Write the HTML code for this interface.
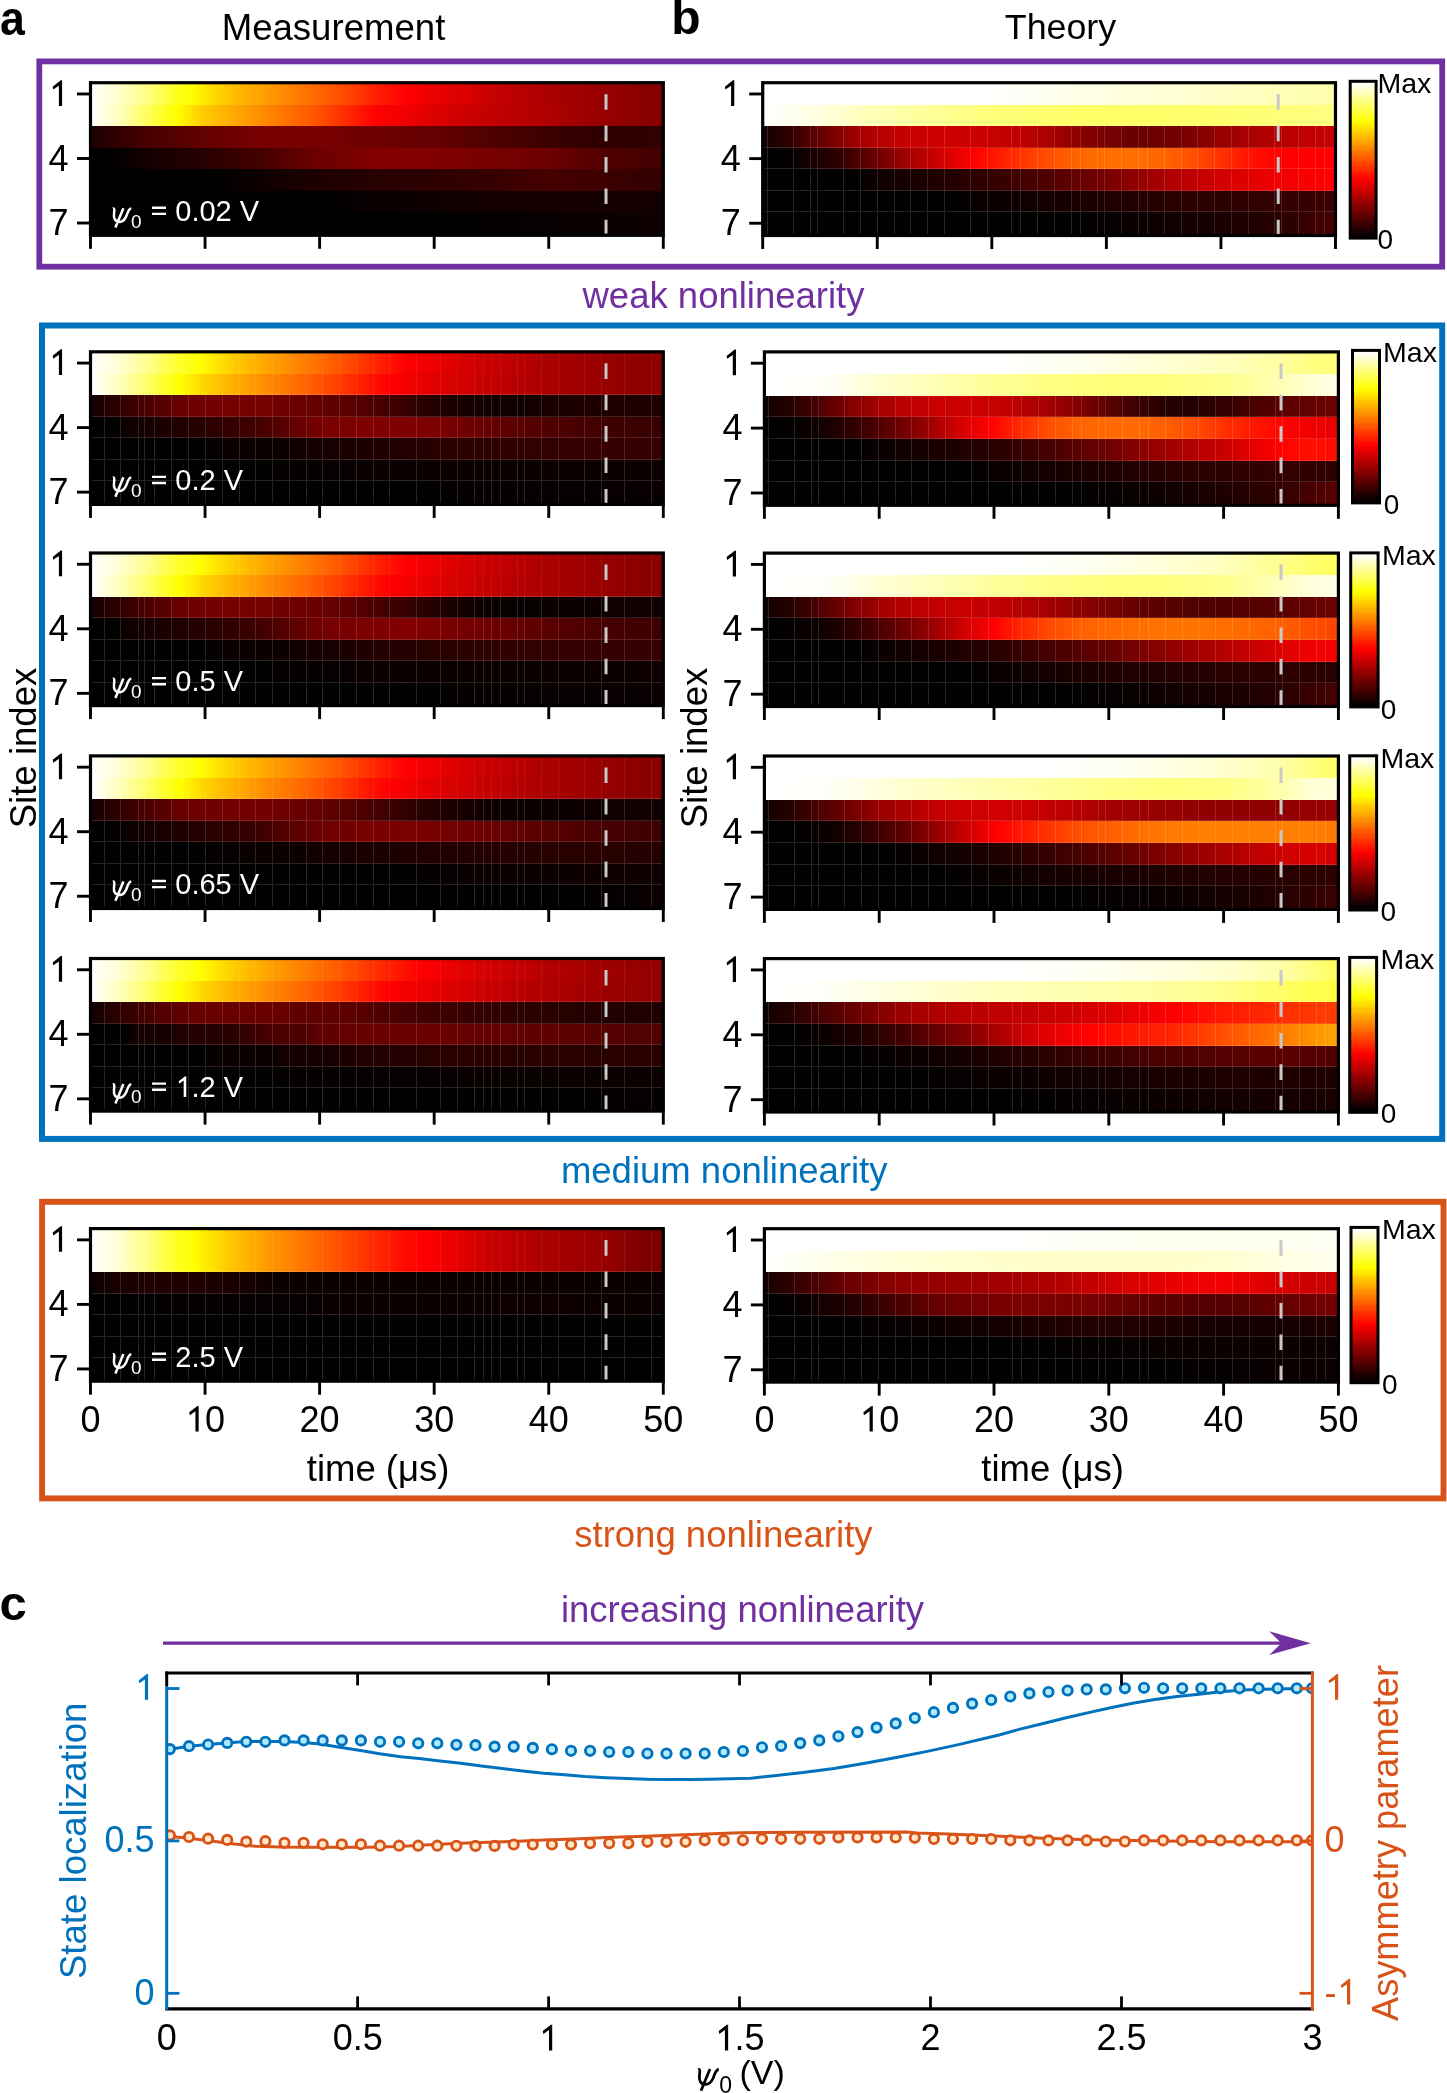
<!DOCTYPE html>
<html><head><meta charset="utf-8"><title>Figure</title>
<style>html,body{margin:0;padding:0;background:#fff;width:1447px;height:2093px;overflow:hidden;font-family:"Liberation Sans",sans-serif;}svg{display:block;will-change:transform;}</style>
</head><body>
<svg width="1447" height="2093" viewBox="0 0 1447 2093" font-family='&quot;Liberation Sans&quot;, sans-serif'><defs><linearGradient id="cbar" x1="0" y1="0" x2="0" y2="1"><stop offset="0.0000" stop-color="#ffffff"/><stop offset="0.0156" stop-color="#ffffff"/><stop offset="0.0156" stop-color="#ffffef"/><stop offset="0.0312" stop-color="#ffffef"/><stop offset="0.0312" stop-color="#ffffdf"/><stop offset="0.0469" stop-color="#ffffdf"/><stop offset="0.0469" stop-color="#ffffce"/><stop offset="0.0625" stop-color="#ffffce"/><stop offset="0.0625" stop-color="#ffffbe"/><stop offset="0.0781" stop-color="#ffffbe"/><stop offset="0.0781" stop-color="#ffffae"/><stop offset="0.0938" stop-color="#ffffae"/><stop offset="0.0938" stop-color="#ffff9e"/><stop offset="0.1094" stop-color="#ffff9e"/><stop offset="0.1094" stop-color="#ffff8e"/><stop offset="0.1250" stop-color="#ffff8e"/><stop offset="0.1250" stop-color="#ffff7d"/><stop offset="0.1406" stop-color="#ffff7d"/><stop offset="0.1406" stop-color="#ffff6d"/><stop offset="0.1562" stop-color="#ffff6d"/><stop offset="0.1562" stop-color="#ffff5d"/><stop offset="0.1719" stop-color="#ffff5d"/><stop offset="0.1719" stop-color="#ffff4d"/><stop offset="0.1875" stop-color="#ffff4d"/><stop offset="0.1875" stop-color="#ffff3d"/><stop offset="0.2031" stop-color="#ffff3d"/><stop offset="0.2031" stop-color="#ffff2d"/><stop offset="0.2188" stop-color="#ffff2d"/><stop offset="0.2188" stop-color="#ffff1c"/><stop offset="0.2344" stop-color="#ffff1c"/><stop offset="0.2344" stop-color="#ffff0c"/><stop offset="0.2500" stop-color="#ffff0c"/><stop offset="0.2500" stop-color="#fffc00"/><stop offset="0.2656" stop-color="#fffc00"/><stop offset="0.2656" stop-color="#fff200"/><stop offset="0.2812" stop-color="#fff200"/><stop offset="0.2812" stop-color="#ffe700"/><stop offset="0.2969" stop-color="#ffe700"/><stop offset="0.2969" stop-color="#ffdc00"/><stop offset="0.3125" stop-color="#ffdc00"/><stop offset="0.3125" stop-color="#ffd100"/><stop offset="0.3281" stop-color="#ffd100"/><stop offset="0.3281" stop-color="#ffc600"/><stop offset="0.3438" stop-color="#ffc600"/><stop offset="0.3438" stop-color="#ffbc00"/><stop offset="0.3594" stop-color="#ffbc00"/><stop offset="0.3594" stop-color="#ffb100"/><stop offset="0.3750" stop-color="#ffb100"/><stop offset="0.3750" stop-color="#ffa600"/><stop offset="0.3906" stop-color="#ffa600"/><stop offset="0.3906" stop-color="#ff9b00"/><stop offset="0.4062" stop-color="#ff9b00"/><stop offset="0.4062" stop-color="#ff9000"/><stop offset="0.4219" stop-color="#ff9000"/><stop offset="0.4219" stop-color="#ff8600"/><stop offset="0.4375" stop-color="#ff8600"/><stop offset="0.4375" stop-color="#ff7b00"/><stop offset="0.4531" stop-color="#ff7b00"/><stop offset="0.4531" stop-color="#ff7000"/><stop offset="0.4688" stop-color="#ff7000"/><stop offset="0.4688" stop-color="#ff6500"/><stop offset="0.4844" stop-color="#ff6500"/><stop offset="0.4844" stop-color="#ff5a00"/><stop offset="0.5000" stop-color="#ff5a00"/><stop offset="0.5000" stop-color="#ff5000"/><stop offset="0.5156" stop-color="#ff5000"/><stop offset="0.5156" stop-color="#ff4500"/><stop offset="0.5312" stop-color="#ff4500"/><stop offset="0.5312" stop-color="#ff3a00"/><stop offset="0.5469" stop-color="#ff3a00"/><stop offset="0.5469" stop-color="#ff2f00"/><stop offset="0.5625" stop-color="#ff2f00"/><stop offset="0.5625" stop-color="#ff2400"/><stop offset="0.5781" stop-color="#ff2400"/><stop offset="0.5781" stop-color="#ff1a00"/><stop offset="0.5938" stop-color="#ff1a00"/><stop offset="0.5938" stop-color="#ff0f00"/><stop offset="0.6094" stop-color="#ff0f00"/><stop offset="0.6094" stop-color="#ff0400"/><stop offset="0.6250" stop-color="#ff0400"/><stop offset="0.6250" stop-color="#f80000"/><stop offset="0.6406" stop-color="#f80000"/><stop offset="0.6406" stop-color="#ed0000"/><stop offset="0.6562" stop-color="#ed0000"/><stop offset="0.6562" stop-color="#e30000"/><stop offset="0.6719" stop-color="#e30000"/><stop offset="0.6719" stop-color="#d80000"/><stop offset="0.6875" stop-color="#d80000"/><stop offset="0.6875" stop-color="#cd0000"/><stop offset="0.7031" stop-color="#cd0000"/><stop offset="0.7031" stop-color="#c20000"/><stop offset="0.7188" stop-color="#c20000"/><stop offset="0.7188" stop-color="#b70000"/><stop offset="0.7344" stop-color="#b70000"/><stop offset="0.7344" stop-color="#ad0000"/><stop offset="0.7500" stop-color="#ad0000"/><stop offset="0.7500" stop-color="#a20000"/><stop offset="0.7656" stop-color="#a20000"/><stop offset="0.7656" stop-color="#970000"/><stop offset="0.7812" stop-color="#970000"/><stop offset="0.7812" stop-color="#8c0000"/><stop offset="0.7969" stop-color="#8c0000"/><stop offset="0.7969" stop-color="#820000"/><stop offset="0.8125" stop-color="#820000"/><stop offset="0.8125" stop-color="#770000"/><stop offset="0.8281" stop-color="#770000"/><stop offset="0.8281" stop-color="#6c0000"/><stop offset="0.8438" stop-color="#6c0000"/><stop offset="0.8438" stop-color="#610000"/><stop offset="0.8594" stop-color="#610000"/><stop offset="0.8594" stop-color="#560000"/><stop offset="0.8750" stop-color="#560000"/><stop offset="0.8750" stop-color="#4c0000"/><stop offset="0.8906" stop-color="#4c0000"/><stop offset="0.8906" stop-color="#410000"/><stop offset="0.9062" stop-color="#410000"/><stop offset="0.9062" stop-color="#360000"/><stop offset="0.9219" stop-color="#360000"/><stop offset="0.9219" stop-color="#2b0000"/><stop offset="0.9375" stop-color="#2b0000"/><stop offset="0.9375" stop-color="#200000"/><stop offset="0.9531" stop-color="#200000"/><stop offset="0.9531" stop-color="#160000"/><stop offset="0.9688" stop-color="#160000"/><stop offset="0.9688" stop-color="#0b0000"/><stop offset="0.9844" stop-color="#0b0000"/><stop offset="0.9844" stop-color="#000000"/><stop offset="1.0000" stop-color="#000000"/></linearGradient><linearGradient id="g1"><stop offset="0.0000" stop-color="#ffffff"/><stop offset="0.0500" stop-color="#ffffc8"/><stop offset="0.1000" stop-color="#ffff82"/><stop offset="0.1500" stop-color="#ffff1e"/><stop offset="0.1773" stop-color="#ffff00"/><stop offset="0.2000" stop-color="#ffe600"/><stop offset="0.2500" stop-color="#ffbe00"/><stop offset="0.3000" stop-color="#ffa000"/><stop offset="0.3500" stop-color="#ff8200"/><stop offset="0.4000" stop-color="#ff6400"/><stop offset="0.4500" stop-color="#ff4600"/><stop offset="0.5000" stop-color="#ff1e00"/><stop offset="0.5500" stop-color="#ff0000"/><stop offset="0.6000" stop-color="#eb0000"/><stop offset="0.6500" stop-color="#dc0000"/><stop offset="0.7000" stop-color="#c80000"/><stop offset="0.7500" stop-color="#b90000"/><stop offset="0.8000" stop-color="#aa0000"/><stop offset="0.8500" stop-color="#a00000"/><stop offset="0.9000" stop-color="#960000"/><stop offset="0.9500" stop-color="#8c0000"/><stop offset="1.0000" stop-color="#820000"/></linearGradient><linearGradient id="g2"><stop offset="0.0000" stop-color="#ffffff"/><stop offset="0.0500" stop-color="#ffffbe"/><stop offset="0.1000" stop-color="#ffff5a"/><stop offset="0.1500" stop-color="#ffff00"/><stop offset="0.2000" stop-color="#ffc800"/><stop offset="0.2500" stop-color="#ffaa00"/><stop offset="0.3000" stop-color="#ff8c00"/><stop offset="0.3500" stop-color="#ff6e00"/><stop offset="0.4000" stop-color="#ff5000"/><stop offset="0.4500" stop-color="#ff2800"/><stop offset="0.5000" stop-color="#ff0000"/><stop offset="0.5500" stop-color="#f00000"/><stop offset="0.6000" stop-color="#dc0000"/><stop offset="0.6500" stop-color="#cd0000"/><stop offset="0.7000" stop-color="#c30000"/><stop offset="0.7500" stop-color="#b90000"/><stop offset="0.8000" stop-color="#af0000"/><stop offset="0.8500" stop-color="#a00000"/><stop offset="0.9000" stop-color="#960000"/><stop offset="0.9500" stop-color="#8c0000"/><stop offset="1.0000" stop-color="#820000"/></linearGradient><linearGradient id="g3"><stop offset="0.0000" stop-color="#1e0000"/><stop offset="0.0500" stop-color="#320000"/><stop offset="0.1000" stop-color="#460000"/><stop offset="0.2000" stop-color="#640000"/><stop offset="0.3000" stop-color="#780000"/><stop offset="0.4000" stop-color="#780000"/><stop offset="0.5000" stop-color="#6e0000"/><stop offset="0.6000" stop-color="#640000"/><stop offset="0.7000" stop-color="#500000"/><stop offset="0.8000" stop-color="#3c0000"/><stop offset="0.9000" stop-color="#2d0000"/><stop offset="1.0000" stop-color="#320000"/></linearGradient><linearGradient id="g4"><stop offset="0.0000" stop-color="#000000"/><stop offset="0.0500" stop-color="#050000"/><stop offset="0.1000" stop-color="#140000"/><stop offset="0.2000" stop-color="#280000"/><stop offset="0.3000" stop-color="#460000"/><stop offset="0.4000" stop-color="#6e0000"/><stop offset="0.5000" stop-color="#820000"/><stop offset="0.6000" stop-color="#820000"/><stop offset="0.7000" stop-color="#780000"/><stop offset="0.8000" stop-color="#6e0000"/><stop offset="0.9000" stop-color="#500000"/><stop offset="1.0000" stop-color="#410000"/></linearGradient><linearGradient id="g5"><stop offset="0.0000" stop-color="#000000"/><stop offset="0.2000" stop-color="#000000"/><stop offset="0.3000" stop-color="#0f0000"/><stop offset="0.4000" stop-color="#1e0000"/><stop offset="0.5000" stop-color="#280000"/><stop offset="0.6000" stop-color="#2d0000"/><stop offset="0.7000" stop-color="#370000"/><stop offset="0.8000" stop-color="#460000"/><stop offset="0.9000" stop-color="#3c0000"/><stop offset="1.0000" stop-color="#320000"/></linearGradient><linearGradient id="g6"><stop offset="0.0000" stop-color="#000000"/><stop offset="0.4000" stop-color="#000000"/><stop offset="0.5000" stop-color="#0a0000"/><stop offset="0.7000" stop-color="#140000"/><stop offset="0.9000" stop-color="#140000"/><stop offset="1.0000" stop-color="#140000"/></linearGradient><linearGradient id="g7"><stop offset="0.0000" stop-color="#000000"/><stop offset="0.6000" stop-color="#000000"/><stop offset="0.8000" stop-color="#080000"/><stop offset="1.0000" stop-color="#0f0000"/></linearGradient><linearGradient id="g8"><stop offset="0.0000" stop-color="#ffffff"/><stop offset="0.4000" stop-color="#ffffff"/><stop offset="0.5000" stop-color="#fffff0"/><stop offset="0.6000" stop-color="#ffffe1"/><stop offset="0.7000" stop-color="#ffffd7"/><stop offset="0.8000" stop-color="#ffffc8"/><stop offset="0.9000" stop-color="#ffffb9"/><stop offset="1.0000" stop-color="#ffffaa"/></linearGradient><linearGradient id="g9"><stop offset="0.0000" stop-color="#ffffff"/><stop offset="0.0500" stop-color="#fffff0"/><stop offset="0.1000" stop-color="#ffffdc"/><stop offset="0.1500" stop-color="#ffffc8"/><stop offset="0.2000" stop-color="#ffffb4"/><stop offset="0.3000" stop-color="#ffff96"/><stop offset="0.4000" stop-color="#ffff78"/><stop offset="0.5000" stop-color="#ffff6e"/><stop offset="0.6000" stop-color="#ffff64"/><stop offset="0.7000" stop-color="#ffff69"/><stop offset="0.8000" stop-color="#ffff6e"/><stop offset="0.9000" stop-color="#ffff78"/><stop offset="1.0000" stop-color="#ffff82"/></linearGradient><linearGradient id="g10"><stop offset="0.0000" stop-color="#140000"/><stop offset="0.0500" stop-color="#320000"/><stop offset="0.1000" stop-color="#640000"/><stop offset="0.1500" stop-color="#960000"/><stop offset="0.2000" stop-color="#b40000"/><stop offset="0.2500" stop-color="#c80000"/><stop offset="0.3000" stop-color="#cd0000"/><stop offset="0.3500" stop-color="#cd0000"/><stop offset="0.4000" stop-color="#c80000"/><stop offset="0.4500" stop-color="#be0000"/><stop offset="0.5000" stop-color="#aa0000"/><stop offset="0.5500" stop-color="#8c0000"/><stop offset="0.6000" stop-color="#780000"/><stop offset="0.6500" stop-color="#690000"/><stop offset="0.7000" stop-color="#6e0000"/><stop offset="0.7500" stop-color="#7d0000"/><stop offset="0.8000" stop-color="#960000"/><stop offset="0.8500" stop-color="#aa0000"/><stop offset="0.9000" stop-color="#b40000"/><stop offset="0.9500" stop-color="#be0000"/><stop offset="1.0000" stop-color="#c80000"/></linearGradient><linearGradient id="g11"><stop offset="0.0000" stop-color="#000000"/><stop offset="0.0500" stop-color="#050000"/><stop offset="0.1000" stop-color="#1e0000"/><stop offset="0.1500" stop-color="#3c0000"/><stop offset="0.2000" stop-color="#6e0000"/><stop offset="0.2500" stop-color="#a00000"/><stop offset="0.3000" stop-color="#c80000"/><stop offset="0.3500" stop-color="#f00000"/><stop offset="0.3714" stop-color="#ff0000"/><stop offset="0.4000" stop-color="#ff1400"/><stop offset="0.4500" stop-color="#ff3200"/><stop offset="0.5000" stop-color="#ff5000"/><stop offset="0.5500" stop-color="#ff6400"/><stop offset="0.6000" stop-color="#ff6e00"/><stop offset="0.6500" stop-color="#ff6e00"/><stop offset="0.7000" stop-color="#ff6400"/><stop offset="0.7500" stop-color="#ff5000"/><stop offset="0.8000" stop-color="#ff3200"/><stop offset="0.8500" stop-color="#ff1400"/><stop offset="0.9000" stop-color="#ff0000"/><stop offset="1.0000" stop-color="#ff0000"/></linearGradient><linearGradient id="g12"><stop offset="0.0000" stop-color="#000000"/><stop offset="0.1600" stop-color="#000000"/><stop offset="0.2000" stop-color="#0f0000"/><stop offset="0.3000" stop-color="#1e0000"/><stop offset="0.4000" stop-color="#320000"/><stop offset="0.5000" stop-color="#500000"/><stop offset="0.6000" stop-color="#780000"/><stop offset="0.7000" stop-color="#aa0000"/><stop offset="0.8000" stop-color="#d20000"/><stop offset="0.9000" stop-color="#f00000"/><stop offset="1.0000" stop-color="#ff0000"/></linearGradient><linearGradient id="g13"><stop offset="0.0000" stop-color="#000000"/><stop offset="0.3000" stop-color="#000000"/><stop offset="0.4000" stop-color="#0a0000"/><stop offset="0.5000" stop-color="#140000"/><stop offset="0.6000" stop-color="#1e0000"/><stop offset="0.7000" stop-color="#280000"/><stop offset="0.8000" stop-color="#2d0000"/><stop offset="0.9000" stop-color="#320000"/><stop offset="1.0000" stop-color="#3c0000"/></linearGradient><linearGradient id="g14"><stop offset="0.0000" stop-color="#000000"/><stop offset="0.5000" stop-color="#000000"/><stop offset="0.6000" stop-color="#050000"/><stop offset="0.7000" stop-color="#0f0000"/><stop offset="0.8000" stop-color="#190000"/><stop offset="0.9000" stop-color="#280000"/><stop offset="1.0000" stop-color="#460000"/></linearGradient><linearGradient id="g15"><stop offset="0.0000" stop-color="#ffffff"/><stop offset="0.0500" stop-color="#ffffd2"/><stop offset="0.1000" stop-color="#ffff8c"/><stop offset="0.1500" stop-color="#ffff32"/><stop offset="0.1917" stop-color="#ffff00"/><stop offset="0.2000" stop-color="#fff500"/><stop offset="0.2500" stop-color="#ffcd00"/><stop offset="0.3000" stop-color="#ffaa00"/><stop offset="0.3500" stop-color="#ff8c00"/><stop offset="0.4000" stop-color="#ff6e00"/><stop offset="0.4500" stop-color="#ff4b00"/><stop offset="0.5000" stop-color="#ff2300"/><stop offset="0.5500" stop-color="#ff0000"/><stop offset="0.6000" stop-color="#eb0000"/><stop offset="0.6500" stop-color="#d70000"/><stop offset="0.7000" stop-color="#c80000"/><stop offset="0.7500" stop-color="#b90000"/><stop offset="0.8000" stop-color="#aa0000"/><stop offset="0.8500" stop-color="#a00000"/><stop offset="0.9000" stop-color="#960000"/><stop offset="0.9500" stop-color="#910000"/><stop offset="1.0000" stop-color="#8c0000"/></linearGradient><linearGradient id="g16"><stop offset="0.0000" stop-color="#ffffff"/><stop offset="0.0500" stop-color="#ffffbe"/><stop offset="0.1000" stop-color="#ffff64"/><stop offset="0.1500" stop-color="#ffff0a"/><stop offset="0.1591" stop-color="#ffff00"/><stop offset="0.2000" stop-color="#ffd200"/><stop offset="0.2500" stop-color="#ffaf00"/><stop offset="0.3000" stop-color="#ff9100"/><stop offset="0.3500" stop-color="#ff7300"/><stop offset="0.4000" stop-color="#ff5500"/><stop offset="0.4500" stop-color="#ff3200"/><stop offset="0.5000" stop-color="#ff0a00"/><stop offset="0.5250" stop-color="#ff0000"/><stop offset="0.5500" stop-color="#f50000"/><stop offset="0.6000" stop-color="#e10000"/><stop offset="0.6500" stop-color="#d20000"/><stop offset="0.7000" stop-color="#c30000"/><stop offset="0.7500" stop-color="#b40000"/><stop offset="0.8000" stop-color="#aa0000"/><stop offset="0.8500" stop-color="#a00000"/><stop offset="0.9000" stop-color="#960000"/><stop offset="0.9500" stop-color="#910000"/><stop offset="1.0000" stop-color="#8c0000"/></linearGradient><linearGradient id="g17"><stop offset="0.0000" stop-color="#140000"/><stop offset="0.0300" stop-color="#230000"/><stop offset="0.0600" stop-color="#320000"/><stop offset="0.0900" stop-color="#460000"/><stop offset="0.1200" stop-color="#550000"/><stop offset="0.1500" stop-color="#640000"/><stop offset="0.1800" stop-color="#700000"/><stop offset="0.2400" stop-color="#760000"/><stop offset="0.3000" stop-color="#760000"/><stop offset="0.3500" stop-color="#6e0000"/><stop offset="0.4000" stop-color="#640000"/><stop offset="0.4500" stop-color="#5a0000"/><stop offset="0.5000" stop-color="#4b0000"/><stop offset="0.5500" stop-color="#370000"/><stop offset="0.6000" stop-color="#230000"/><stop offset="0.6500" stop-color="#160000"/><stop offset="0.7000" stop-color="#110000"/><stop offset="0.7500" stop-color="#0f0000"/><stop offset="0.8000" stop-color="#190000"/><stop offset="0.8600" stop-color="#1e0000"/><stop offset="1.0000" stop-color="#1e0000"/></linearGradient><linearGradient id="g18"><stop offset="0.0000" stop-color="#000000"/><stop offset="0.0400" stop-color="#030000"/><stop offset="0.0700" stop-color="#0f0000"/><stop offset="0.1400" stop-color="#1e0000"/><stop offset="0.2400" stop-color="#320000"/><stop offset="0.3000" stop-color="#460000"/><stop offset="0.3400" stop-color="#5a0000"/><stop offset="0.3800" stop-color="#6e0000"/><stop offset="0.4200" stop-color="#7a0000"/><stop offset="0.5000" stop-color="#800000"/><stop offset="0.6000" stop-color="#7d0000"/><stop offset="0.6600" stop-color="#6e0000"/><stop offset="0.7200" stop-color="#5f0000"/><stop offset="0.8000" stop-color="#500000"/><stop offset="0.8600" stop-color="#460000"/><stop offset="0.9200" stop-color="#3c0000"/><stop offset="1.0000" stop-color="#370000"/></linearGradient><linearGradient id="g19"><stop offset="0.0000" stop-color="#000000"/><stop offset="0.2000" stop-color="#000000"/><stop offset="0.2400" stop-color="#0a0000"/><stop offset="0.3400" stop-color="#0c0000"/><stop offset="0.3800" stop-color="#140000"/><stop offset="0.4600" stop-color="#1c0000"/><stop offset="0.5000" stop-color="#1e0000"/><stop offset="0.6000" stop-color="#280000"/><stop offset="0.7000" stop-color="#2d0000"/><stop offset="0.8000" stop-color="#320000"/><stop offset="0.9000" stop-color="#370000"/><stop offset="1.0000" stop-color="#370000"/></linearGradient><linearGradient id="g20"><stop offset="0.0000" stop-color="#000000"/><stop offset="0.2000" stop-color="#000000"/><stop offset="0.4000" stop-color="#060000"/><stop offset="0.5000" stop-color="#0a0000"/><stop offset="1.0000" stop-color="#0c0000"/></linearGradient><linearGradient id="g21"><stop offset="0.0000" stop-color="#000000"/><stop offset="0.5000" stop-color="#000000"/><stop offset="0.7000" stop-color="#050000"/><stop offset="0.9000" stop-color="#080000"/><stop offset="1.0000" stop-color="#080000"/></linearGradient><linearGradient id="g22"><stop offset="0.0000" stop-color="#ffffff"/><stop offset="0.4000" stop-color="#ffffff"/><stop offset="0.5000" stop-color="#fffff5"/><stop offset="0.6000" stop-color="#ffffe6"/><stop offset="0.7000" stop-color="#ffffd2"/><stop offset="0.8000" stop-color="#ffffbe"/><stop offset="0.9000" stop-color="#ffffa0"/><stop offset="0.9500" stop-color="#ffff82"/><stop offset="1.0000" stop-color="#ffff73"/></linearGradient><linearGradient id="g23"><stop offset="0.0000" stop-color="#ffffff"/><stop offset="0.1000" stop-color="#fffffa"/><stop offset="0.1500" stop-color="#ffffe6"/><stop offset="0.2000" stop-color="#ffffd2"/><stop offset="0.3000" stop-color="#ffffb4"/><stop offset="0.4000" stop-color="#ffff96"/><stop offset="0.5000" stop-color="#ffff82"/><stop offset="0.6000" stop-color="#ffff78"/><stop offset="0.7000" stop-color="#ffff7d"/><stop offset="0.8000" stop-color="#ffff8c"/><stop offset="0.9000" stop-color="#ffffb4"/><stop offset="0.9500" stop-color="#ffffd2"/><stop offset="1.0000" stop-color="#ffffe6"/></linearGradient><linearGradient id="g24"><stop offset="0.0000" stop-color="#0f0000"/><stop offset="0.0500" stop-color="#280000"/><stop offset="0.1000" stop-color="#500000"/><stop offset="0.1500" stop-color="#820000"/><stop offset="0.2000" stop-color="#a50000"/><stop offset="0.2500" stop-color="#be0000"/><stop offset="0.3000" stop-color="#c80000"/><stop offset="0.3500" stop-color="#cd0000"/><stop offset="0.4000" stop-color="#c80000"/><stop offset="0.4500" stop-color="#b90000"/><stop offset="0.5000" stop-color="#a00000"/><stop offset="0.5500" stop-color="#820000"/><stop offset="0.6000" stop-color="#5a0000"/><stop offset="0.6500" stop-color="#3c0000"/><stop offset="0.7000" stop-color="#280000"/><stop offset="0.7500" stop-color="#230000"/><stop offset="0.8000" stop-color="#320000"/><stop offset="0.8500" stop-color="#460000"/><stop offset="0.9000" stop-color="#5a0000"/><stop offset="0.9500" stop-color="#640000"/><stop offset="1.0000" stop-color="#6e0000"/></linearGradient><linearGradient id="g25"><stop offset="0.0000" stop-color="#000000"/><stop offset="0.0500" stop-color="#030000"/><stop offset="0.1000" stop-color="#140000"/><stop offset="0.1500" stop-color="#2d0000"/><stop offset="0.2000" stop-color="#500000"/><stop offset="0.2500" stop-color="#780000"/><stop offset="0.3000" stop-color="#aa0000"/><stop offset="0.3500" stop-color="#dc0000"/><stop offset="0.3937" stop-color="#ff0000"/><stop offset="0.4000" stop-color="#ff0500"/><stop offset="0.4500" stop-color="#ff2d00"/><stop offset="0.5000" stop-color="#ff5000"/><stop offset="0.5500" stop-color="#ff6400"/><stop offset="0.6000" stop-color="#ff6900"/><stop offset="0.6500" stop-color="#ff6900"/><stop offset="0.7000" stop-color="#ff5f00"/><stop offset="0.7500" stop-color="#ff4b00"/><stop offset="0.8000" stop-color="#ff3200"/><stop offset="0.8500" stop-color="#ff1900"/><stop offset="0.9000" stop-color="#ff0500"/><stop offset="0.9125" stop-color="#ff0000"/><stop offset="0.9500" stop-color="#f00000"/><stop offset="1.0000" stop-color="#e60000"/></linearGradient><linearGradient id="g26"><stop offset="0.0000" stop-color="#000000"/><stop offset="0.1500" stop-color="#000000"/><stop offset="0.2000" stop-color="#0a0000"/><stop offset="0.3000" stop-color="#190000"/><stop offset="0.4000" stop-color="#280000"/><stop offset="0.5000" stop-color="#460000"/><stop offset="0.6000" stop-color="#6e0000"/><stop offset="0.7000" stop-color="#a00000"/><stop offset="0.8000" stop-color="#c80000"/><stop offset="0.9000" stop-color="#ff0000"/><stop offset="0.9500" stop-color="#ff0f00"/><stop offset="1.0000" stop-color="#ff0a00"/></linearGradient><linearGradient id="g27"><stop offset="0.0000" stop-color="#000000"/><stop offset="0.3500" stop-color="#000000"/><stop offset="0.4000" stop-color="#0a0000"/><stop offset="0.5000" stop-color="#140000"/><stop offset="0.6000" stop-color="#1e0000"/><stop offset="0.7000" stop-color="#280000"/><stop offset="0.8000" stop-color="#2d0000"/><stop offset="0.9000" stop-color="#320000"/><stop offset="1.0000" stop-color="#2d0000"/></linearGradient><linearGradient id="g28"><stop offset="0.0000" stop-color="#000000"/><stop offset="0.5000" stop-color="#000000"/><stop offset="0.6000" stop-color="#050000"/><stop offset="0.7000" stop-color="#0f0000"/><stop offset="0.8000" stop-color="#1e0000"/><stop offset="0.9000" stop-color="#320000"/><stop offset="1.0000" stop-color="#5a0000"/></linearGradient><linearGradient id="g29"><stop offset="0.0000" stop-color="#ffffff"/><stop offset="0.0500" stop-color="#ffffd2"/><stop offset="0.1000" stop-color="#ffff8c"/><stop offset="0.1500" stop-color="#ffff32"/><stop offset="0.1917" stop-color="#ffff00"/><stop offset="0.2000" stop-color="#fff500"/><stop offset="0.2500" stop-color="#ffcd00"/><stop offset="0.3000" stop-color="#ffaa00"/><stop offset="0.3500" stop-color="#ff8c00"/><stop offset="0.4000" stop-color="#ff6e00"/><stop offset="0.4500" stop-color="#ff4b00"/><stop offset="0.5000" stop-color="#ff2300"/><stop offset="0.5500" stop-color="#ff0000"/><stop offset="0.6000" stop-color="#eb0000"/><stop offset="0.6500" stop-color="#d70000"/><stop offset="0.7000" stop-color="#c80000"/><stop offset="0.7500" stop-color="#b90000"/><stop offset="0.8000" stop-color="#aa0000"/><stop offset="0.8500" stop-color="#a00000"/><stop offset="0.9000" stop-color="#960000"/><stop offset="0.9500" stop-color="#8c0000"/><stop offset="1.0000" stop-color="#870000"/></linearGradient><linearGradient id="g30"><stop offset="0.0000" stop-color="#ffffff"/><stop offset="0.0500" stop-color="#ffffbe"/><stop offset="0.1000" stop-color="#ffff64"/><stop offset="0.1500" stop-color="#ffff0a"/><stop offset="0.1591" stop-color="#ffff00"/><stop offset="0.2000" stop-color="#ffd200"/><stop offset="0.2500" stop-color="#ffaf00"/><stop offset="0.3000" stop-color="#ff9100"/><stop offset="0.3500" stop-color="#ff7300"/><stop offset="0.4000" stop-color="#ff5500"/><stop offset="0.4500" stop-color="#ff3200"/><stop offset="0.5000" stop-color="#ff0a00"/><stop offset="0.5250" stop-color="#ff0000"/><stop offset="0.5500" stop-color="#f50000"/><stop offset="0.6000" stop-color="#e10000"/><stop offset="0.6500" stop-color="#d20000"/><stop offset="0.7000" stop-color="#c30000"/><stop offset="0.7500" stop-color="#b40000"/><stop offset="0.8000" stop-color="#aa0000"/><stop offset="0.8500" stop-color="#a00000"/><stop offset="0.9000" stop-color="#960000"/><stop offset="0.9500" stop-color="#8c0000"/><stop offset="1.0000" stop-color="#870000"/></linearGradient><linearGradient id="g31"><stop offset="0.0000" stop-color="#140000"/><stop offset="0.0300" stop-color="#230000"/><stop offset="0.0600" stop-color="#320000"/><stop offset="0.0900" stop-color="#460000"/><stop offset="0.1200" stop-color="#550000"/><stop offset="0.1500" stop-color="#640000"/><stop offset="0.1800" stop-color="#700000"/><stop offset="0.2400" stop-color="#760000"/><stop offset="0.3000" stop-color="#760000"/><stop offset="0.3500" stop-color="#700000"/><stop offset="0.4000" stop-color="#690000"/><stop offset="0.4500" stop-color="#5c0000"/><stop offset="0.5000" stop-color="#480000"/><stop offset="0.5500" stop-color="#340000"/><stop offset="0.6000" stop-color="#230000"/><stop offset="0.6500" stop-color="#140000"/><stop offset="0.7000" stop-color="#0a0000"/><stop offset="0.7500" stop-color="#060000"/><stop offset="0.8000" stop-color="#0a0000"/><stop offset="0.9000" stop-color="#0f0000"/><stop offset="1.0000" stop-color="#140000"/></linearGradient><linearGradient id="g32"><stop offset="0.0000" stop-color="#000000"/><stop offset="0.0400" stop-color="#030000"/><stop offset="0.0700" stop-color="#0f0000"/><stop offset="0.1400" stop-color="#1e0000"/><stop offset="0.2400" stop-color="#2d0000"/><stop offset="0.3000" stop-color="#410000"/><stop offset="0.3400" stop-color="#550000"/><stop offset="0.3800" stop-color="#690000"/><stop offset="0.4200" stop-color="#760000"/><stop offset="0.5000" stop-color="#7e0000"/><stop offset="0.5500" stop-color="#820000"/><stop offset="0.6000" stop-color="#7d0000"/><stop offset="0.7000" stop-color="#6e0000"/><stop offset="0.8000" stop-color="#5a0000"/><stop offset="0.9000" stop-color="#460000"/><stop offset="1.0000" stop-color="#3c0000"/></linearGradient><linearGradient id="g33"><stop offset="0.0000" stop-color="#000000"/><stop offset="0.2000" stop-color="#000000"/><stop offset="0.2400" stop-color="#0a0000"/><stop offset="0.3400" stop-color="#0c0000"/><stop offset="0.3800" stop-color="#140000"/><stop offset="0.4600" stop-color="#1c0000"/><stop offset="0.5000" stop-color="#230000"/><stop offset="0.6000" stop-color="#280000"/><stop offset="0.7000" stop-color="#2d0000"/><stop offset="0.8000" stop-color="#320000"/><stop offset="0.9000" stop-color="#370000"/><stop offset="1.0000" stop-color="#370000"/></linearGradient><linearGradient id="g34"><stop offset="0.0000" stop-color="#000000"/><stop offset="0.2000" stop-color="#000000"/><stop offset="0.4000" stop-color="#060000"/><stop offset="0.5000" stop-color="#0a0000"/><stop offset="1.0000" stop-color="#0e0000"/></linearGradient><linearGradient id="g35"><stop offset="0.0000" stop-color="#000000"/><stop offset="0.5000" stop-color="#000000"/><stop offset="0.7000" stop-color="#050000"/><stop offset="0.9000" stop-color="#080000"/><stop offset="1.0000" stop-color="#080000"/></linearGradient><linearGradient id="g36"><stop offset="0.0000" stop-color="#ffffff"/><stop offset="0.4000" stop-color="#ffffff"/><stop offset="0.5000" stop-color="#fffffa"/><stop offset="0.6000" stop-color="#ffffeb"/><stop offset="0.7000" stop-color="#ffffd7"/><stop offset="0.8000" stop-color="#ffffbe"/><stop offset="0.9000" stop-color="#ffff8c"/><stop offset="0.9500" stop-color="#ffff6e"/><stop offset="1.0000" stop-color="#ffff5a"/></linearGradient><linearGradient id="g37"><stop offset="0.0000" stop-color="#ffffff"/><stop offset="0.1000" stop-color="#fffffa"/><stop offset="0.1500" stop-color="#ffffeb"/><stop offset="0.2000" stop-color="#ffffd7"/><stop offset="0.3000" stop-color="#ffffb9"/><stop offset="0.4000" stop-color="#ffff9b"/><stop offset="0.5000" stop-color="#ffff87"/><stop offset="0.6000" stop-color="#ffff7d"/><stop offset="0.7000" stop-color="#ffff7d"/><stop offset="0.8000" stop-color="#ffff8c"/><stop offset="0.9000" stop-color="#ffffbe"/><stop offset="0.9500" stop-color="#ffffdc"/><stop offset="1.0000" stop-color="#ffffeb"/></linearGradient><linearGradient id="g38"><stop offset="0.0000" stop-color="#0f0000"/><stop offset="0.0500" stop-color="#280000"/><stop offset="0.1000" stop-color="#500000"/><stop offset="0.1500" stop-color="#7d0000"/><stop offset="0.2000" stop-color="#a00000"/><stop offset="0.2500" stop-color="#b90000"/><stop offset="0.3000" stop-color="#c30000"/><stop offset="0.3500" stop-color="#c80000"/><stop offset="0.4000" stop-color="#c30000"/><stop offset="0.4500" stop-color="#b40000"/><stop offset="0.5000" stop-color="#a00000"/><stop offset="0.5500" stop-color="#8c0000"/><stop offset="0.6000" stop-color="#780000"/><stop offset="0.6500" stop-color="#640000"/><stop offset="0.7000" stop-color="#5a0000"/><stop offset="0.7500" stop-color="#500000"/><stop offset="0.8000" stop-color="#500000"/><stop offset="0.8500" stop-color="#550000"/><stop offset="0.9000" stop-color="#5a0000"/><stop offset="0.9500" stop-color="#640000"/><stop offset="1.0000" stop-color="#6e0000"/></linearGradient><linearGradient id="g39"><stop offset="0.0000" stop-color="#000000"/><stop offset="0.0500" stop-color="#030000"/><stop offset="0.1000" stop-color="#0f0000"/><stop offset="0.1500" stop-color="#280000"/><stop offset="0.2000" stop-color="#4b0000"/><stop offset="0.2500" stop-color="#730000"/><stop offset="0.3000" stop-color="#a00000"/><stop offset="0.3500" stop-color="#d20000"/><stop offset="0.4000" stop-color="#ff0000"/><stop offset="0.4500" stop-color="#ff2800"/><stop offset="0.5000" stop-color="#ff4b00"/><stop offset="0.5500" stop-color="#ff5f00"/><stop offset="0.6000" stop-color="#ff6900"/><stop offset="0.6500" stop-color="#ff6e00"/><stop offset="0.7000" stop-color="#ff7300"/><stop offset="0.7500" stop-color="#ff7300"/><stop offset="0.8000" stop-color="#ff6e00"/><stop offset="0.8500" stop-color="#ff6900"/><stop offset="0.9000" stop-color="#ff5f00"/><stop offset="0.9500" stop-color="#ff5000"/><stop offset="1.0000" stop-color="#ff4100"/></linearGradient><linearGradient id="g40"><stop offset="0.0000" stop-color="#000000"/><stop offset="0.1500" stop-color="#000000"/><stop offset="0.2000" stop-color="#0a0000"/><stop offset="0.3000" stop-color="#190000"/><stop offset="0.4000" stop-color="#280000"/><stop offset="0.5000" stop-color="#460000"/><stop offset="0.6000" stop-color="#640000"/><stop offset="0.7000" stop-color="#8c0000"/><stop offset="0.8000" stop-color="#b40000"/><stop offset="0.9000" stop-color="#dc0000"/><stop offset="0.9500" stop-color="#f00000"/><stop offset="1.0000" stop-color="#fa0000"/></linearGradient><linearGradient id="g41"><stop offset="0.0000" stop-color="#000000"/><stop offset="0.3500" stop-color="#000000"/><stop offset="0.4000" stop-color="#0a0000"/><stop offset="0.5000" stop-color="#140000"/><stop offset="0.6000" stop-color="#1e0000"/><stop offset="0.7000" stop-color="#230000"/><stop offset="0.8000" stop-color="#280000"/><stop offset="0.9000" stop-color="#2d0000"/><stop offset="1.0000" stop-color="#280000"/></linearGradient><linearGradient id="g42"><stop offset="0.0000" stop-color="#000000"/><stop offset="0.5000" stop-color="#000000"/><stop offset="0.6000" stop-color="#050000"/><stop offset="0.7000" stop-color="#0f0000"/><stop offset="0.8000" stop-color="#190000"/><stop offset="0.9000" stop-color="#280000"/><stop offset="1.0000" stop-color="#460000"/></linearGradient><linearGradient id="g43"><stop offset="0.0000" stop-color="#ffffff"/><stop offset="0.0500" stop-color="#ffffd2"/><stop offset="0.1000" stop-color="#ffff8c"/><stop offset="0.1500" stop-color="#ffff32"/><stop offset="0.1917" stop-color="#ffff00"/><stop offset="0.2000" stop-color="#fff500"/><stop offset="0.2500" stop-color="#ffcd00"/><stop offset="0.3000" stop-color="#ffaa00"/><stop offset="0.3500" stop-color="#ff8c00"/><stop offset="0.4000" stop-color="#ff6e00"/><stop offset="0.4500" stop-color="#ff4b00"/><stop offset="0.5000" stop-color="#ff2300"/><stop offset="0.5500" stop-color="#ff0000"/><stop offset="0.6000" stop-color="#eb0000"/><stop offset="0.6500" stop-color="#d70000"/><stop offset="0.7000" stop-color="#c80000"/><stop offset="0.7500" stop-color="#b90000"/><stop offset="0.8000" stop-color="#aa0000"/><stop offset="0.8500" stop-color="#a00000"/><stop offset="0.9000" stop-color="#960000"/><stop offset="0.9500" stop-color="#8c0000"/><stop offset="1.0000" stop-color="#870000"/></linearGradient><linearGradient id="g44"><stop offset="0.0000" stop-color="#ffffff"/><stop offset="0.0500" stop-color="#ffffbe"/><stop offset="0.1000" stop-color="#ffff64"/><stop offset="0.1500" stop-color="#ffff0a"/><stop offset="0.1591" stop-color="#ffff00"/><stop offset="0.2000" stop-color="#ffd200"/><stop offset="0.2500" stop-color="#ffaf00"/><stop offset="0.3000" stop-color="#ff9100"/><stop offset="0.3500" stop-color="#ff7300"/><stop offset="0.4000" stop-color="#ff5500"/><stop offset="0.4500" stop-color="#ff3200"/><stop offset="0.5000" stop-color="#ff0a00"/><stop offset="0.5250" stop-color="#ff0000"/><stop offset="0.5500" stop-color="#f50000"/><stop offset="0.6000" stop-color="#e10000"/><stop offset="0.6500" stop-color="#d20000"/><stop offset="0.7000" stop-color="#c30000"/><stop offset="0.7500" stop-color="#b40000"/><stop offset="0.8000" stop-color="#aa0000"/><stop offset="0.8500" stop-color="#a00000"/><stop offset="0.9000" stop-color="#960000"/><stop offset="0.9500" stop-color="#8c0000"/><stop offset="1.0000" stop-color="#870000"/></linearGradient><linearGradient id="g45"><stop offset="0.0000" stop-color="#140000"/><stop offset="0.0300" stop-color="#230000"/><stop offset="0.0600" stop-color="#320000"/><stop offset="0.0900" stop-color="#460000"/><stop offset="0.1200" stop-color="#550000"/><stop offset="0.1500" stop-color="#640000"/><stop offset="0.1800" stop-color="#6e0000"/><stop offset="0.2400" stop-color="#730000"/><stop offset="0.3000" stop-color="#730000"/><stop offset="0.3500" stop-color="#6c0000"/><stop offset="0.4000" stop-color="#620000"/><stop offset="0.4500" stop-color="#550000"/><stop offset="0.5000" stop-color="#440000"/><stop offset="0.5500" stop-color="#320000"/><stop offset="0.6000" stop-color="#230000"/><stop offset="0.6500" stop-color="#160000"/><stop offset="0.7000" stop-color="#0e0000"/><stop offset="0.7500" stop-color="#0a0000"/><stop offset="0.8000" stop-color="#0c0000"/><stop offset="0.9000" stop-color="#0f0000"/><stop offset="1.0000" stop-color="#140000"/></linearGradient><linearGradient id="g46"><stop offset="0.0000" stop-color="#000000"/><stop offset="0.0400" stop-color="#030000"/><stop offset="0.0700" stop-color="#0c0000"/><stop offset="0.1400" stop-color="#1c0000"/><stop offset="0.2400" stop-color="#2d0000"/><stop offset="0.3000" stop-color="#3e0000"/><stop offset="0.3400" stop-color="#520000"/><stop offset="0.3800" stop-color="#640000"/><stop offset="0.4200" stop-color="#700000"/><stop offset="0.5000" stop-color="#780000"/><stop offset="0.5500" stop-color="#7c0000"/><stop offset="0.6000" stop-color="#780000"/><stop offset="0.7000" stop-color="#690000"/><stop offset="0.8000" stop-color="#580000"/><stop offset="0.9000" stop-color="#460000"/><stop offset="1.0000" stop-color="#3e0000"/></linearGradient><linearGradient id="g47"><stop offset="0.0000" stop-color="#000000"/><stop offset="0.2000" stop-color="#000000"/><stop offset="0.2400" stop-color="#080000"/><stop offset="0.3400" stop-color="#0a0000"/><stop offset="0.3800" stop-color="#100000"/><stop offset="0.4600" stop-color="#180000"/><stop offset="0.5000" stop-color="#1c0000"/><stop offset="0.6000" stop-color="#200000"/><stop offset="0.7000" stop-color="#240000"/><stop offset="0.8000" stop-color="#280000"/><stop offset="0.9000" stop-color="#280000"/><stop offset="1.0000" stop-color="#240000"/></linearGradient><linearGradient id="g48"><stop offset="0.0000" stop-color="#000000"/><stop offset="0.5000" stop-color="#000000"/><stop offset="0.7000" stop-color="#0a0000"/><stop offset="0.9000" stop-color="#0f0000"/><stop offset="1.0000" stop-color="#0f0000"/></linearGradient><linearGradient id="g49"><stop offset="0.0000" stop-color="#000000"/><stop offset="0.8000" stop-color="#000000"/><stop offset="1.0000" stop-color="#0a0000"/></linearGradient><linearGradient id="g50"><stop offset="0.0000" stop-color="#ffffff"/><stop offset="0.5000" stop-color="#ffffff"/><stop offset="0.6000" stop-color="#fffff5"/><stop offset="0.7000" stop-color="#ffffe6"/><stop offset="0.8000" stop-color="#ffffcd"/><stop offset="0.9000" stop-color="#ffffaa"/><stop offset="0.9500" stop-color="#ffff82"/><stop offset="1.0000" stop-color="#ffff64"/></linearGradient><linearGradient id="g51"><stop offset="0.0000" stop-color="#ffffff"/><stop offset="0.1000" stop-color="#fffffa"/><stop offset="0.1500" stop-color="#ffffeb"/><stop offset="0.2000" stop-color="#ffffdc"/><stop offset="0.3000" stop-color="#ffffc3"/><stop offset="0.4000" stop-color="#ffffaf"/><stop offset="0.5000" stop-color="#ffff9b"/><stop offset="0.6000" stop-color="#ffff87"/><stop offset="0.7000" stop-color="#ffff7d"/><stop offset="0.8000" stop-color="#ffff82"/><stop offset="0.9000" stop-color="#ffffaa"/><stop offset="0.9500" stop-color="#ffffd2"/><stop offset="1.0000" stop-color="#ffffe1"/></linearGradient><linearGradient id="g52"><stop offset="0.0000" stop-color="#0f0000"/><stop offset="0.0500" stop-color="#280000"/><stop offset="0.1000" stop-color="#500000"/><stop offset="0.1500" stop-color="#730000"/><stop offset="0.2000" stop-color="#960000"/><stop offset="0.2500" stop-color="#af0000"/><stop offset="0.3000" stop-color="#c30000"/><stop offset="0.3500" stop-color="#cd0000"/><stop offset="0.4000" stop-color="#d20000"/><stop offset="0.4500" stop-color="#cd0000"/><stop offset="0.5000" stop-color="#c30000"/><stop offset="0.5500" stop-color="#b40000"/><stop offset="0.6000" stop-color="#a50000"/><stop offset="0.6500" stop-color="#9b0000"/><stop offset="0.7000" stop-color="#960000"/><stop offset="0.7500" stop-color="#910000"/><stop offset="0.8000" stop-color="#910000"/><stop offset="0.8500" stop-color="#910000"/><stop offset="0.9000" stop-color="#910000"/><stop offset="0.9500" stop-color="#960000"/><stop offset="1.0000" stop-color="#960000"/></linearGradient><linearGradient id="g53"><stop offset="0.0000" stop-color="#000000"/><stop offset="0.0500" stop-color="#030000"/><stop offset="0.1000" stop-color="#0a0000"/><stop offset="0.1500" stop-color="#1e0000"/><stop offset="0.2000" stop-color="#3c0000"/><stop offset="0.2500" stop-color="#640000"/><stop offset="0.3000" stop-color="#960000"/><stop offset="0.3500" stop-color="#c80000"/><stop offset="0.4000" stop-color="#fa0000"/><stop offset="0.4083" stop-color="#ff0000"/><stop offset="0.4500" stop-color="#ff1900"/><stop offset="0.5000" stop-color="#ff3700"/><stop offset="0.5500" stop-color="#ff5000"/><stop offset="0.6000" stop-color="#ff5f00"/><stop offset="0.6500" stop-color="#ff6e00"/><stop offset="0.7000" stop-color="#ff7800"/><stop offset="0.7500" stop-color="#ff7d00"/><stop offset="0.8000" stop-color="#ff7d00"/><stop offset="0.8500" stop-color="#ff7d00"/><stop offset="0.9000" stop-color="#ff7d00"/><stop offset="0.9500" stop-color="#ff7d00"/><stop offset="1.0000" stop-color="#ff7800"/></linearGradient><linearGradient id="g54"><stop offset="0.0000" stop-color="#000000"/><stop offset="0.2000" stop-color="#000000"/><stop offset="0.2500" stop-color="#080000"/><stop offset="0.3000" stop-color="#0f0000"/><stop offset="0.4000" stop-color="#1e0000"/><stop offset="0.5000" stop-color="#370000"/><stop offset="0.6000" stop-color="#5a0000"/><stop offset="0.7000" stop-color="#820000"/><stop offset="0.8000" stop-color="#aa0000"/><stop offset="0.9000" stop-color="#cd0000"/><stop offset="0.9500" stop-color="#d70000"/><stop offset="1.0000" stop-color="#d20000"/></linearGradient><linearGradient id="g55"><stop offset="0.0000" stop-color="#000000"/><stop offset="0.3000" stop-color="#000000"/><stop offset="0.4000" stop-color="#0a0000"/><stop offset="0.5000" stop-color="#140000"/><stop offset="0.6000" stop-color="#190000"/><stop offset="0.7000" stop-color="#1e0000"/><stop offset="0.8000" stop-color="#230000"/><stop offset="0.9000" stop-color="#280000"/><stop offset="1.0000" stop-color="#2d0000"/></linearGradient><linearGradient id="g56"><stop offset="0.0000" stop-color="#000000"/><stop offset="0.5000" stop-color="#000000"/><stop offset="0.6000" stop-color="#050000"/><stop offset="0.7000" stop-color="#0a0000"/><stop offset="0.8000" stop-color="#140000"/><stop offset="0.9000" stop-color="#230000"/><stop offset="1.0000" stop-color="#3c0000"/></linearGradient><linearGradient id="g57"><stop offset="0.0000" stop-color="#ffffff"/><stop offset="0.0500" stop-color="#ffffd2"/><stop offset="0.1000" stop-color="#ffff8c"/><stop offset="0.1500" stop-color="#ffff32"/><stop offset="0.1917" stop-color="#ffff00"/><stop offset="0.2000" stop-color="#fff500"/><stop offset="0.2500" stop-color="#ffcd00"/><stop offset="0.3000" stop-color="#ffaa00"/><stop offset="0.3500" stop-color="#ff8c00"/><stop offset="0.4000" stop-color="#ff6e00"/><stop offset="0.4500" stop-color="#ff5000"/><stop offset="0.5000" stop-color="#ff2d00"/><stop offset="0.5500" stop-color="#ff0f00"/><stop offset="0.5800" stop-color="#ff0000"/><stop offset="0.6000" stop-color="#f50000"/><stop offset="0.6500" stop-color="#e10000"/><stop offset="0.7000" stop-color="#d20000"/><stop offset="0.7500" stop-color="#c30000"/><stop offset="0.8000" stop-color="#b40000"/><stop offset="0.8500" stop-color="#aa0000"/><stop offset="0.9000" stop-color="#a00000"/><stop offset="0.9500" stop-color="#960000"/><stop offset="1.0000" stop-color="#910000"/></linearGradient><linearGradient id="g58"><stop offset="0.0000" stop-color="#ffffff"/><stop offset="0.0500" stop-color="#ffffbe"/><stop offset="0.1000" stop-color="#ffff64"/><stop offset="0.1500" stop-color="#ffff0a"/><stop offset="0.1591" stop-color="#ffff00"/><stop offset="0.2000" stop-color="#ffd200"/><stop offset="0.2500" stop-color="#ffaf00"/><stop offset="0.3000" stop-color="#ff9100"/><stop offset="0.3500" stop-color="#ff7300"/><stop offset="0.4000" stop-color="#ff5500"/><stop offset="0.4500" stop-color="#ff3200"/><stop offset="0.5000" stop-color="#ff0a00"/><stop offset="0.5250" stop-color="#ff0000"/><stop offset="0.5500" stop-color="#f50000"/><stop offset="0.6000" stop-color="#e60000"/><stop offset="0.6500" stop-color="#d70000"/><stop offset="0.7000" stop-color="#c80000"/><stop offset="0.7500" stop-color="#b90000"/><stop offset="0.8000" stop-color="#af0000"/><stop offset="0.8500" stop-color="#a50000"/><stop offset="0.9000" stop-color="#9b0000"/><stop offset="0.9500" stop-color="#960000"/><stop offset="1.0000" stop-color="#910000"/></linearGradient><linearGradient id="g59"><stop offset="0.0000" stop-color="#0f0000"/><stop offset="0.0400" stop-color="#280000"/><stop offset="0.0800" stop-color="#3c0000"/><stop offset="0.1200" stop-color="#500000"/><stop offset="0.1700" stop-color="#640000"/><stop offset="0.2000" stop-color="#690000"/><stop offset="0.3400" stop-color="#690000"/><stop offset="0.3600" stop-color="#5f0000"/><stop offset="0.4400" stop-color="#5f0000"/><stop offset="0.4800" stop-color="#580000"/><stop offset="0.5000" stop-color="#4e0000"/><stop offset="0.6000" stop-color="#3e0000"/><stop offset="0.7000" stop-color="#320000"/><stop offset="0.8000" stop-color="#2a0000"/><stop offset="0.9000" stop-color="#230000"/><stop offset="1.0000" stop-color="#1e0000"/></linearGradient><linearGradient id="g60"><stop offset="0.0000" stop-color="#000000"/><stop offset="0.0600" stop-color="#030000"/><stop offset="0.0800" stop-color="#140000"/><stop offset="0.1400" stop-color="#160000"/><stop offset="0.1600" stop-color="#230000"/><stop offset="0.2400" stop-color="#260000"/><stop offset="0.2800" stop-color="#370000"/><stop offset="0.3200" stop-color="#4b0000"/><stop offset="0.3800" stop-color="#4e0000"/><stop offset="0.4000" stop-color="#5f0000"/><stop offset="0.4400" stop-color="#620000"/><stop offset="0.4800" stop-color="#690000"/><stop offset="0.6000" stop-color="#690000"/><stop offset="0.7000" stop-color="#640000"/><stop offset="0.8000" stop-color="#5f0000"/><stop offset="0.9000" stop-color="#550000"/><stop offset="1.0000" stop-color="#500000"/></linearGradient><linearGradient id="g61"><stop offset="0.0000" stop-color="#000000"/><stop offset="0.2000" stop-color="#000000"/><stop offset="0.2200" stop-color="#0a0000"/><stop offset="0.3200" stop-color="#0c0000"/><stop offset="0.3400" stop-color="#140000"/><stop offset="0.4200" stop-color="#160000"/><stop offset="0.4400" stop-color="#1c0000"/><stop offset="0.5000" stop-color="#230000"/><stop offset="0.6000" stop-color="#280000"/><stop offset="0.7000" stop-color="#280000"/><stop offset="0.8000" stop-color="#2a0000"/><stop offset="0.9000" stop-color="#280000"/><stop offset="1.0000" stop-color="#280000"/></linearGradient><linearGradient id="g62"><stop offset="0.0000" stop-color="#000000"/><stop offset="0.2000" stop-color="#000000"/><stop offset="0.4000" stop-color="#050000"/><stop offset="0.6000" stop-color="#080000"/><stop offset="1.0000" stop-color="#0a0000"/></linearGradient><linearGradient id="g63"><stop offset="0.0000" stop-color="#000000"/><stop offset="0.8000" stop-color="#000000"/><stop offset="1.0000" stop-color="#080000"/></linearGradient><linearGradient id="g64"><stop offset="0.0000" stop-color="#ffffff"/><stop offset="0.4400" stop-color="#ffffff"/><stop offset="0.5000" stop-color="#fffffa"/><stop offset="0.6000" stop-color="#fffff0"/><stop offset="0.7000" stop-color="#ffffe1"/><stop offset="0.8000" stop-color="#ffffcd"/><stop offset="0.9000" stop-color="#ffffaa"/><stop offset="0.9500" stop-color="#ffff82"/><stop offset="1.0000" stop-color="#ffff5a"/></linearGradient><linearGradient id="g65"><stop offset="0.0000" stop-color="#ffffff"/><stop offset="0.1000" stop-color="#fffffa"/><stop offset="0.1500" stop-color="#ffffeb"/><stop offset="0.2000" stop-color="#ffffe1"/><stop offset="0.3000" stop-color="#ffffcd"/><stop offset="0.4000" stop-color="#ffffbe"/><stop offset="0.5000" stop-color="#ffffb4"/><stop offset="0.6000" stop-color="#ffffaa"/><stop offset="0.7000" stop-color="#ffffa0"/><stop offset="0.8000" stop-color="#ffff8c"/><stop offset="0.9000" stop-color="#ffff64"/><stop offset="0.9500" stop-color="#ffff50"/><stop offset="1.0000" stop-color="#ffff41"/></linearGradient><linearGradient id="g66"><stop offset="0.0000" stop-color="#0f0000"/><stop offset="0.0500" stop-color="#280000"/><stop offset="0.1000" stop-color="#460000"/><stop offset="0.1500" stop-color="#640000"/><stop offset="0.2000" stop-color="#820000"/><stop offset="0.2500" stop-color="#a00000"/><stop offset="0.3000" stop-color="#af0000"/><stop offset="0.3500" stop-color="#b90000"/><stop offset="0.4000" stop-color="#be0000"/><stop offset="0.4500" stop-color="#c30000"/><stop offset="0.5000" stop-color="#c80000"/><stop offset="0.5500" stop-color="#d20000"/><stop offset="0.6000" stop-color="#dc0000"/><stop offset="0.6500" stop-color="#eb0000"/><stop offset="0.7000" stop-color="#fa0000"/><stop offset="0.7167" stop-color="#ff0000"/><stop offset="0.7500" stop-color="#ff0a00"/><stop offset="0.8000" stop-color="#ff1900"/><stop offset="0.8500" stop-color="#ff2300"/><stop offset="0.9000" stop-color="#ff2d00"/><stop offset="0.9500" stop-color="#ff3700"/><stop offset="1.0000" stop-color="#ff3c00"/></linearGradient><linearGradient id="g67"><stop offset="0.0000" stop-color="#000000"/><stop offset="0.0500" stop-color="#030000"/><stop offset="0.1000" stop-color="#0a0000"/><stop offset="0.1500" stop-color="#190000"/><stop offset="0.2000" stop-color="#2d0000"/><stop offset="0.2500" stop-color="#460000"/><stop offset="0.3000" stop-color="#640000"/><stop offset="0.3500" stop-color="#820000"/><stop offset="0.4000" stop-color="#a50000"/><stop offset="0.4500" stop-color="#c80000"/><stop offset="0.5000" stop-color="#e60000"/><stop offset="0.5500" stop-color="#fa0000"/><stop offset="0.5667" stop-color="#ff0000"/><stop offset="0.6000" stop-color="#ff0a00"/><stop offset="0.6500" stop-color="#ff1900"/><stop offset="0.7000" stop-color="#ff2300"/><stop offset="0.7500" stop-color="#ff3700"/><stop offset="0.8000" stop-color="#ff5000"/><stop offset="0.8500" stop-color="#ff6400"/><stop offset="0.9000" stop-color="#ff7800"/><stop offset="0.9500" stop-color="#ff9100"/><stop offset="1.0000" stop-color="#ffa500"/></linearGradient><linearGradient id="g68"><stop offset="0.0000" stop-color="#000000"/><stop offset="0.1500" stop-color="#000000"/><stop offset="0.2000" stop-color="#050000"/><stop offset="0.3000" stop-color="#0f0000"/><stop offset="0.4000" stop-color="#1e0000"/><stop offset="0.5000" stop-color="#2d0000"/><stop offset="0.6000" stop-color="#3c0000"/><stop offset="0.7000" stop-color="#4b0000"/><stop offset="0.8000" stop-color="#550000"/><stop offset="0.9000" stop-color="#5a0000"/><stop offset="1.0000" stop-color="#500000"/></linearGradient><linearGradient id="g69"><stop offset="0.0000" stop-color="#000000"/><stop offset="0.2500" stop-color="#000000"/><stop offset="0.3000" stop-color="#050000"/><stop offset="0.4000" stop-color="#0a0000"/><stop offset="0.5000" stop-color="#0f0000"/><stop offset="0.6000" stop-color="#140000"/><stop offset="0.7000" stop-color="#190000"/><stop offset="0.8000" stop-color="#1e0000"/><stop offset="0.9000" stop-color="#1e0000"/><stop offset="1.0000" stop-color="#1e0000"/></linearGradient><linearGradient id="g70"><stop offset="0.0000" stop-color="#000000"/><stop offset="0.4000" stop-color="#000000"/><stop offset="0.5000" stop-color="#030000"/><stop offset="0.6000" stop-color="#080000"/><stop offset="0.7000" stop-color="#0c0000"/><stop offset="0.8000" stop-color="#120000"/><stop offset="0.9000" stop-color="#140000"/><stop offset="1.0000" stop-color="#190000"/></linearGradient><linearGradient id="g71"><stop offset="0.0000" stop-color="#ffffff"/><stop offset="0.0500" stop-color="#ffffd2"/><stop offset="0.1000" stop-color="#ffff82"/><stop offset="0.1500" stop-color="#ffff23"/><stop offset="0.1818" stop-color="#ffff00"/><stop offset="0.2000" stop-color="#ffeb00"/><stop offset="0.2500" stop-color="#ffc300"/><stop offset="0.3000" stop-color="#ffa000"/><stop offset="0.3500" stop-color="#ff8200"/><stop offset="0.4000" stop-color="#ff6400"/><stop offset="0.4500" stop-color="#ff4600"/><stop offset="0.5000" stop-color="#ff2800"/><stop offset="0.5500" stop-color="#ff0a00"/><stop offset="0.5833" stop-color="#ff0000"/><stop offset="0.6000" stop-color="#fa0000"/><stop offset="0.6500" stop-color="#e10000"/><stop offset="0.7000" stop-color="#c80000"/><stop offset="0.7500" stop-color="#b90000"/><stop offset="0.8000" stop-color="#aa0000"/><stop offset="0.8500" stop-color="#a00000"/><stop offset="0.9000" stop-color="#960000"/><stop offset="0.9500" stop-color="#820000"/><stop offset="1.0000" stop-color="#780000"/></linearGradient><linearGradient id="g72"><stop offset="0.0000" stop-color="#ffffff"/><stop offset="0.0500" stop-color="#ffffd2"/><stop offset="0.1000" stop-color="#ffff82"/><stop offset="0.1500" stop-color="#ffff23"/><stop offset="0.1818" stop-color="#ffff00"/><stop offset="0.2000" stop-color="#ffeb00"/><stop offset="0.2500" stop-color="#ffc300"/><stop offset="0.3000" stop-color="#ffa000"/><stop offset="0.3500" stop-color="#ff8200"/><stop offset="0.4000" stop-color="#ff6400"/><stop offset="0.4500" stop-color="#ff4600"/><stop offset="0.5000" stop-color="#ff2800"/><stop offset="0.5500" stop-color="#ff0a00"/><stop offset="0.5833" stop-color="#ff0000"/><stop offset="0.6000" stop-color="#fa0000"/><stop offset="0.6500" stop-color="#e10000"/><stop offset="0.7000" stop-color="#c80000"/><stop offset="0.7500" stop-color="#b90000"/><stop offset="0.8000" stop-color="#aa0000"/><stop offset="0.8500" stop-color="#a00000"/><stop offset="0.9000" stop-color="#960000"/><stop offset="0.9500" stop-color="#820000"/><stop offset="1.0000" stop-color="#780000"/></linearGradient><linearGradient id="g73"><stop offset="0.0000" stop-color="#0a0000"/><stop offset="0.0500" stop-color="#190000"/><stop offset="0.1000" stop-color="#1e0000"/><stop offset="0.2000" stop-color="#1e0000"/><stop offset="0.2500" stop-color="#190000"/><stop offset="0.3000" stop-color="#0f0000"/><stop offset="0.4000" stop-color="#0a0000"/><stop offset="1.0000" stop-color="#0a0000"/></linearGradient><linearGradient id="g74"><stop offset="0.0000" stop-color="#000000"/><stop offset="0.2000" stop-color="#050000"/><stop offset="0.4000" stop-color="#080000"/><stop offset="0.6000" stop-color="#0c0000"/><stop offset="0.8000" stop-color="#0f0000"/><stop offset="0.9000" stop-color="#0c0000"/><stop offset="1.0000" stop-color="#0a0000"/></linearGradient><linearGradient id="g75"><stop offset="0.0000" stop-color="#000000"/><stop offset="1.0000" stop-color="#030000"/></linearGradient><linearGradient id="g76"><stop offset="0.0000" stop-color="#000000"/><stop offset="1.0000" stop-color="#000000"/></linearGradient><linearGradient id="g77"><stop offset="0.0000" stop-color="#000000"/><stop offset="1.0000" stop-color="#000000"/></linearGradient><linearGradient id="g78"><stop offset="0.0000" stop-color="#ffffff"/><stop offset="0.4400" stop-color="#ffffff"/><stop offset="0.5000" stop-color="#fffffa"/><stop offset="0.6000" stop-color="#fffff5"/><stop offset="0.7000" stop-color="#fffff0"/><stop offset="0.8000" stop-color="#ffffee"/><stop offset="0.9000" stop-color="#fffff0"/><stop offset="1.0000" stop-color="#fffff5"/></linearGradient><linearGradient id="g79"><stop offset="0.0000" stop-color="#ffffff"/><stop offset="0.0600" stop-color="#fffff5"/><stop offset="0.1000" stop-color="#ffffeb"/><stop offset="0.2000" stop-color="#ffffdc"/><stop offset="0.3000" stop-color="#ffffd2"/><stop offset="0.4000" stop-color="#ffffcd"/><stop offset="0.5000" stop-color="#ffffca"/><stop offset="0.6000" stop-color="#ffffca"/><stop offset="0.7000" stop-color="#ffffca"/><stop offset="0.8000" stop-color="#ffffd0"/><stop offset="0.9000" stop-color="#ffffe1"/><stop offset="1.0000" stop-color="#fffff0"/></linearGradient><linearGradient id="g80"><stop offset="0.0000" stop-color="#140000"/><stop offset="0.0500" stop-color="#320000"/><stop offset="0.1000" stop-color="#500000"/><stop offset="0.1500" stop-color="#6e0000"/><stop offset="0.2000" stop-color="#820000"/><stop offset="0.2500" stop-color="#910000"/><stop offset="0.3000" stop-color="#960000"/><stop offset="0.3500" stop-color="#9b0000"/><stop offset="0.4000" stop-color="#a00000"/><stop offset="0.4500" stop-color="#a50000"/><stop offset="0.5000" stop-color="#af0000"/><stop offset="0.5500" stop-color="#be0000"/><stop offset="0.6000" stop-color="#cd0000"/><stop offset="0.6500" stop-color="#dc0000"/><stop offset="0.7000" stop-color="#e60000"/><stop offset="0.7500" stop-color="#f00000"/><stop offset="0.8000" stop-color="#f00000"/><stop offset="0.8500" stop-color="#e60000"/><stop offset="0.9000" stop-color="#d70000"/><stop offset="0.9500" stop-color="#cd0000"/><stop offset="1.0000" stop-color="#c80000"/></linearGradient><linearGradient id="g81"><stop offset="0.0000" stop-color="#000000"/><stop offset="0.0500" stop-color="#050000"/><stop offset="0.1000" stop-color="#140000"/><stop offset="0.1500" stop-color="#230000"/><stop offset="0.2000" stop-color="#370000"/><stop offset="0.2500" stop-color="#500000"/><stop offset="0.3000" stop-color="#640000"/><stop offset="0.3500" stop-color="#6e0000"/><stop offset="0.4000" stop-color="#780000"/><stop offset="0.4500" stop-color="#7d0000"/><stop offset="0.5000" stop-color="#7d0000"/><stop offset="0.5500" stop-color="#780000"/><stop offset="0.6000" stop-color="#6e0000"/><stop offset="0.6500" stop-color="#640000"/><stop offset="0.7000" stop-color="#5a0000"/><stop offset="0.7500" stop-color="#550000"/><stop offset="0.8000" stop-color="#550000"/><stop offset="0.8500" stop-color="#5a0000"/><stop offset="0.9000" stop-color="#640000"/><stop offset="0.9500" stop-color="#6e0000"/><stop offset="1.0000" stop-color="#730000"/></linearGradient><linearGradient id="g82"><stop offset="0.0000" stop-color="#000000"/><stop offset="0.1500" stop-color="#000000"/><stop offset="0.2000" stop-color="#050000"/><stop offset="0.3000" stop-color="#0c0000"/><stop offset="0.4000" stop-color="#140000"/><stop offset="0.5000" stop-color="#1e0000"/><stop offset="0.6000" stop-color="#230000"/><stop offset="0.7000" stop-color="#1e0000"/><stop offset="0.8000" stop-color="#140000"/><stop offset="0.9000" stop-color="#140000"/><stop offset="1.0000" stop-color="#1e0000"/></linearGradient><linearGradient id="g83"><stop offset="0.0000" stop-color="#000000"/><stop offset="0.4000" stop-color="#000000"/><stop offset="0.5000" stop-color="#030000"/><stop offset="0.6000" stop-color="#050000"/><stop offset="0.7000" stop-color="#0a0000"/><stop offset="0.8000" stop-color="#0c0000"/><stop offset="0.9000" stop-color="#0c0000"/><stop offset="1.0000" stop-color="#0c0000"/></linearGradient><linearGradient id="g84"><stop offset="0.0000" stop-color="#000000"/><stop offset="0.6000" stop-color="#000000"/><stop offset="0.8000" stop-color="#050000"/><stop offset="0.9000" stop-color="#0a0000"/><stop offset="1.0000" stop-color="#0a0000"/></linearGradient><clipPath id="cc"><rect x="166.7" y="1663.0" width="1145.7" height="355.8"/></clipPath></defs><text x="0" y="35.0" font-size="48" font-weight="bold" transform="scale(0.93 1)">a</text>
<text x="671.2" y="33.6" font-size="48" font-weight="bold">b</text>
<text x="-0.5" y="1620.2" font-size="49" font-weight="bold">c</text>
<text x="333.5" y="39.6" font-size="36.6" fill="#000" text-anchor="middle">Measurement</text>
<text x="1060.5" y="39.2" font-size="35.8" fill="#000" text-anchor="middle">Theory</text>
<rect x="39.3" y="61.4" width="1402.9" height="205.3" fill="none" stroke="#7030A0" stroke-width="5.8"/>
<rect x="42.0" y="325.5" width="1400.2" height="813.4" fill="none" stroke="#0072BD" stroke-width="6"/>
<rect x="42.1" y="1201.8" width="1401.4" height="296.6" fill="none" stroke="#D95319" stroke-width="5.9"/>
<text x="723.5" y="307.6" font-size="36.5" fill="#7030A0" text-anchor="middle">weak nonlinearity</text>
<text x="724.2" y="1182.8" font-size="36.5" fill="#0072BD" text-anchor="middle">medium nonlinearity</text>
<text x="723.4" y="1546.9" font-size="36.5" fill="#D95319" text-anchor="middle">strong nonlinearity</text>
<rect x="90.50" y="82.70" width="572.80" height="22.01" fill="url(#g1)" shape-rendering="crispEdges"/>
<rect x="90.50" y="104.71" width="572.80" height="21.51" fill="url(#g2)" shape-rendering="crispEdges"/>
<rect x="90.50" y="126.23" width="572.80" height="21.51" fill="url(#g3)" shape-rendering="crispEdges"/>
<rect x="90.50" y="147.74" width="572.80" height="21.51" fill="url(#g4)" shape-rendering="crispEdges"/>
<rect x="90.50" y="169.26" width="572.80" height="21.51" fill="url(#g5)" shape-rendering="crispEdges"/>
<rect x="90.50" y="190.77" width="572.80" height="21.51" fill="url(#g6)" shape-rendering="crispEdges"/>
<rect x="90.50" y="212.29" width="572.80" height="23.01" fill="url(#g7)" shape-rendering="crispEdges"/>
<line x1="606.02" y1="94.20" x2="606.02" y2="233.80" stroke="#c8c8c8" stroke-width="3" stroke-dasharray="15.6 15.8"/>
<rect x="90.50" y="82.70" width="572.80" height="152.60" fill="none" stroke="#000" stroke-width="3.2"/>
<line x1="77.00" y1="93.96" x2="90.50" y2="93.96" stroke="#000" stroke-width="2.9"/>
<path transform="translate(48.48 105.96) scale(36.000)" d="M0.378 0L0.289 0L0.289 -0.564L0.133 -0.456L0.117 -0.536L0.342 -0.714L0.378 -0.714Z" fill="#000"/>
<line x1="77.00" y1="158.50" x2="90.50" y2="158.50" stroke="#000" stroke-width="2.9"/>
<text x="48.48" y="170.50" font-size="36" fill="#000" xml:space="preserve">4</text>
<line x1="77.00" y1="223.04" x2="90.50" y2="223.04" stroke="#000" stroke-width="2.9"/>
<text x="48.48" y="235.04" font-size="36" fill="#000" xml:space="preserve">7</text>
<line x1="90.50" y1="235.30" x2="90.50" y2="248.80" stroke="#000" stroke-width="2.9"/>
<line x1="205.06" y1="235.30" x2="205.06" y2="248.80" stroke="#000" stroke-width="2.9"/>
<line x1="319.62" y1="235.30" x2="319.62" y2="248.80" stroke="#000" stroke-width="2.9"/>
<line x1="434.18" y1="235.30" x2="434.18" y2="248.80" stroke="#000" stroke-width="2.9"/>
<line x1="548.74" y1="235.30" x2="548.74" y2="248.80" stroke="#000" stroke-width="2.9"/>
<line x1="663.30" y1="235.30" x2="663.30" y2="248.80" stroke="#000" stroke-width="2.9"/>
<path transform="translate(111.1 221.1)" d="M1.8 -12.6C3.6 -13.2 3.3 -10 2.9 -7.1C2.4 -3 3.6 0.8 8.6 0.8M20.2 -12.7C17 -12.3 16.6 -8.2 15.1 -4.7C13.6 -1.6 11.6 0.8 8.6 0.8M12.3 -12.9L4.3 6.5" stroke="#fff" stroke-width="2.5" fill="none" stroke-linecap="butt"/>
<text x="131.1" y="227.6" font-size="19" fill="#fff">0</text>
<path d="M152.0 206.6h14v2.4h-14zM152.0 212.7h14v2.4h-14z" fill="#fff"/>
<text x="175.30" y="221.10" font-size="29" fill="#fff" xml:space="preserve">0.02 V</text>
<rect x="762.70" y="82.70" width="572.80" height="22.04" fill="url(#g8)" shape-rendering="crispEdges"/>
<rect x="762.70" y="104.74" width="572.80" height="21.54" fill="url(#g9)" shape-rendering="crispEdges"/>
<rect x="762.70" y="126.29" width="572.80" height="21.54" fill="url(#g10)" shape-rendering="crispEdges"/>
<rect x="762.70" y="147.83" width="572.80" height="21.54" fill="url(#g11)" shape-rendering="crispEdges"/>
<rect x="762.70" y="169.37" width="572.80" height="21.54" fill="url(#g12)" shape-rendering="crispEdges"/>
<rect x="762.70" y="190.91" width="572.80" height="21.54" fill="url(#g13)" shape-rendering="crispEdges"/>
<rect x="762.70" y="212.46" width="572.80" height="23.04" fill="url(#g14)" shape-rendering="crispEdges"/>
<path d="M767.5 82.7V126.3M793.5 82.7V126.3M810.5 82.7V126.3M817.5 82.7V126.3M843.5 82.7V126.3M860.5 82.7V126.3M877.5 82.7V126.3M894.5 82.7V126.3M910.5 82.7V126.3M927.5 82.7V126.3M944.5 82.7V126.3M970.5 82.7V126.3M987.5 82.7V126.3M1011.5 82.7V126.3M1020.5 82.7V126.3M1037.5 82.7V126.3M1054.5 82.7V126.3M1071.5 82.7V126.3M1080.5 82.7V126.3M1097.5 82.7V126.3M1104.5 82.7V126.3M1121.5 82.7V126.3M1138.5 82.7V126.3M1147.5 82.7V126.3M1164.5 82.7V126.3M1181.5 82.7V126.3M1197.5 82.7V126.3M1214.5 82.7V126.3M1231.5 82.7V126.3M1248.5 82.7V126.3M1274.5 82.7V126.3M1281.5 82.7V126.3M1298.5 82.7V126.3M1315.5 82.7V126.3M1324.5 82.7V126.3" stroke="#fff" stroke-opacity="0.07" stroke-width="1" fill="none" shape-rendering="crispEdges"/>
<path d="M767.5 126.3V235.5M793.5 126.3V235.5M810.5 126.3V235.5M817.5 126.3V235.5M843.5 126.3V235.5M860.5 126.3V235.5M877.5 126.3V235.5M894.5 126.3V235.5M910.5 126.3V235.5M927.5 126.3V235.5M944.5 126.3V235.5M970.5 126.3V235.5M987.5 126.3V235.5M1011.5 126.3V235.5M1020.5 126.3V235.5M1037.5 126.3V235.5M1054.5 126.3V235.5M1071.5 126.3V235.5M1080.5 126.3V235.5M1097.5 126.3V235.5M1104.5 126.3V235.5M1121.5 126.3V235.5M1138.5 126.3V235.5M1147.5 126.3V235.5M1164.5 126.3V235.5M1181.5 126.3V235.5M1197.5 126.3V235.5M1214.5 126.3V235.5M1231.5 126.3V235.5M1248.5 126.3V235.5M1274.5 126.3V235.5M1281.5 126.3V235.5M1298.5 126.3V235.5M1315.5 126.3V235.5M1324.5 126.3V235.5M762.7 125.5H1335.5M762.7 147.5H1335.5M762.7 168.5H1335.5M762.7 190.5H1335.5M762.7 211.5H1335.5" stroke="#fff" stroke-opacity="0.14" stroke-width="1" fill="none" shape-rendering="crispEdges"/>
<line x1="1278.22" y1="94.20" x2="1278.22" y2="234.00" stroke="#c8c8c8" stroke-width="3" stroke-dasharray="15.6 15.8"/>
<rect x="762.70" y="82.70" width="572.80" height="152.80" fill="none" stroke="#000" stroke-width="3.2"/>
<line x1="749.20" y1="93.97" x2="762.70" y2="93.97" stroke="#000" stroke-width="2.9"/>
<path transform="translate(720.68 105.97) scale(36.000)" d="M0.378 0L0.289 0L0.289 -0.564L0.133 -0.456L0.117 -0.536L0.342 -0.714L0.378 -0.714Z" fill="#000"/>
<line x1="749.20" y1="158.60" x2="762.70" y2="158.60" stroke="#000" stroke-width="2.9"/>
<text x="720.68" y="170.60" font-size="36" fill="#000" xml:space="preserve">4</text>
<line x1="749.20" y1="223.23" x2="762.70" y2="223.23" stroke="#000" stroke-width="2.9"/>
<text x="720.68" y="235.23" font-size="36" fill="#000" xml:space="preserve">7</text>
<line x1="762.70" y1="235.50" x2="762.70" y2="249.00" stroke="#000" stroke-width="2.9"/>
<line x1="877.26" y1="235.50" x2="877.26" y2="249.00" stroke="#000" stroke-width="2.9"/>
<line x1="991.82" y1="235.50" x2="991.82" y2="249.00" stroke="#000" stroke-width="2.9"/>
<line x1="1106.38" y1="235.50" x2="1106.38" y2="249.00" stroke="#000" stroke-width="2.9"/>
<line x1="1220.94" y1="235.50" x2="1220.94" y2="249.00" stroke="#000" stroke-width="2.9"/>
<line x1="1335.50" y1="235.50" x2="1335.50" y2="249.00" stroke="#000" stroke-width="2.9"/>
<rect x="1350.20" y="81.30" width="25.90" height="156.80" fill="url(#cbar)" stroke="#000" stroke-width="3"/>
<text x="1377.4" y="92.9" font-size="28.5" fill="#000" text-anchor="start">Max</text>
<text x="1377.6" y="249.0" font-size="28" fill="#000" text-anchor="start">0</text>
<rect x="90.50" y="351.80" width="572.80" height="22.01" fill="url(#g15)" shape-rendering="crispEdges"/>
<rect x="90.50" y="373.81" width="572.80" height="21.51" fill="url(#g16)" shape-rendering="crispEdges"/>
<rect x="90.50" y="395.33" width="572.80" height="21.51" fill="url(#g17)" shape-rendering="crispEdges"/>
<rect x="90.50" y="416.84" width="572.80" height="21.51" fill="url(#g18)" shape-rendering="crispEdges"/>
<rect x="90.50" y="438.36" width="572.80" height="21.51" fill="url(#g19)" shape-rendering="crispEdges"/>
<rect x="90.50" y="459.87" width="572.80" height="21.51" fill="url(#g20)" shape-rendering="crispEdges"/>
<rect x="90.50" y="481.39" width="572.80" height="23.01" fill="url(#g21)" shape-rendering="crispEdges"/>
<path d="M104.5 351.8V395.3M120.5 351.8V395.3M138.5 351.8V395.3M144.5 351.8V395.3M154.5 351.8V395.3M171.5 351.8V395.3M188.5 351.8V395.3M205.5 351.8V395.3M222.5 351.8V395.3M239.5 351.8V395.3M255.5 351.8V395.3M272.5 351.8V395.3M289.5 351.8V395.3M306.5 351.8V395.3M322.5 351.8V395.3M339.5 351.8V395.3M356.5 351.8V395.3M373.5 351.8V395.3M389.5 351.8V395.3M416.5 351.8V395.3M440.5 351.8V395.3M457.5 351.8V395.3M474.5 351.8V395.3M483.5 351.8V395.3M491.5 351.8V395.3M500.5 351.8V395.3M517.5 351.8V395.3M524.5 351.8V395.3M541.5 351.8V395.3M558.5 351.8V395.3M584.5 351.8V395.3M601.5 351.8V395.3M624.5 351.8V395.3M651.5 351.8V395.3" stroke="#fff" stroke-opacity="0.07" stroke-width="1" fill="none" shape-rendering="crispEdges"/>
<path d="M104.5 395.3V504.4M120.5 395.3V504.4M138.5 395.3V504.4M144.5 395.3V504.4M154.5 395.3V504.4M171.5 395.3V504.4M188.5 395.3V504.4M205.5 395.3V504.4M222.5 395.3V504.4M239.5 395.3V504.4M255.5 395.3V504.4M272.5 395.3V504.4M289.5 395.3V504.4M306.5 395.3V504.4M322.5 395.3V504.4M339.5 395.3V504.4M356.5 395.3V504.4M373.5 395.3V504.4M389.5 395.3V504.4M416.5 395.3V504.4M440.5 395.3V504.4M457.5 395.3V504.4M474.5 395.3V504.4M483.5 395.3V504.4M491.5 395.3V504.4M500.5 395.3V504.4M517.5 395.3V504.4M524.5 395.3V504.4M541.5 395.3V504.4M558.5 395.3V504.4M584.5 395.3V504.4M601.5 395.3V504.4M624.5 395.3V504.4M651.5 395.3V504.4M90.5 394.5H663.3M90.5 416.5H663.3M90.5 437.5H663.3M90.5 459.5H663.3M90.5 480.5H663.3" stroke="#fff" stroke-opacity="0.14" stroke-width="1" fill="none" shape-rendering="crispEdges"/>
<line x1="606.02" y1="363.30" x2="606.02" y2="502.90" stroke="#c8c8c8" stroke-width="3" stroke-dasharray="15.6 15.8"/>
<rect x="90.50" y="351.80" width="572.80" height="152.60" fill="none" stroke="#000" stroke-width="3.2"/>
<line x1="77.00" y1="363.06" x2="90.50" y2="363.06" stroke="#000" stroke-width="2.9"/>
<path transform="translate(48.48 375.06) scale(36.000)" d="M0.378 0L0.289 0L0.289 -0.564L0.133 -0.456L0.117 -0.536L0.342 -0.714L0.378 -0.714Z" fill="#000"/>
<line x1="77.00" y1="427.60" x2="90.50" y2="427.60" stroke="#000" stroke-width="2.9"/>
<text x="48.48" y="439.60" font-size="36" fill="#000" xml:space="preserve">4</text>
<line x1="77.00" y1="492.14" x2="90.50" y2="492.14" stroke="#000" stroke-width="2.9"/>
<text x="48.48" y="504.14" font-size="36" fill="#000" xml:space="preserve">7</text>
<line x1="90.50" y1="504.40" x2="90.50" y2="517.90" stroke="#000" stroke-width="2.9"/>
<line x1="205.06" y1="504.40" x2="205.06" y2="517.90" stroke="#000" stroke-width="2.9"/>
<line x1="319.62" y1="504.40" x2="319.62" y2="517.90" stroke="#000" stroke-width="2.9"/>
<line x1="434.18" y1="504.40" x2="434.18" y2="517.90" stroke="#000" stroke-width="2.9"/>
<line x1="548.74" y1="504.40" x2="548.74" y2="517.90" stroke="#000" stroke-width="2.9"/>
<line x1="663.30" y1="504.40" x2="663.30" y2="517.90" stroke="#000" stroke-width="2.9"/>
<path transform="translate(111.1 490.2)" d="M1.8 -12.6C3.6 -13.2 3.3 -10 2.9 -7.1C2.4 -3 3.6 0.8 8.6 0.8M20.2 -12.7C17 -12.3 16.6 -8.2 15.1 -4.7C13.6 -1.6 11.6 0.8 8.6 0.8M12.3 -12.9L4.3 6.5" stroke="#fff" stroke-width="2.5" fill="none" stroke-linecap="butt"/>
<text x="131.1" y="496.7" font-size="19" fill="#fff">0</text>
<path d="M152.0 475.7h14v2.4h-14zM152.0 481.8h14v2.4h-14z" fill="#fff"/>
<text x="175.30" y="490.20" font-size="29" fill="#fff" xml:space="preserve">0.2 V</text>
<rect x="764.40" y="351.90" width="574.00" height="22.13" fill="url(#g22)" shape-rendering="crispEdges"/>
<rect x="764.40" y="374.03" width="574.00" height="21.63" fill="url(#g23)" shape-rendering="crispEdges"/>
<rect x="764.40" y="395.66" width="574.00" height="21.63" fill="url(#g24)" shape-rendering="crispEdges"/>
<rect x="764.40" y="417.29" width="574.00" height="21.63" fill="url(#g25)" shape-rendering="crispEdges"/>
<rect x="764.40" y="438.91" width="574.00" height="21.63" fill="url(#g26)" shape-rendering="crispEdges"/>
<rect x="764.40" y="460.54" width="574.00" height="21.63" fill="url(#g27)" shape-rendering="crispEdges"/>
<rect x="764.40" y="482.17" width="574.00" height="23.13" fill="url(#g28)" shape-rendering="crispEdges"/>
<path d="M768.5 351.9V395.7M794.5 351.9V395.7M811.5 351.9V395.7M818.5 351.9V395.7M844.5 351.9V395.7M861.5 351.9V395.7M878.5 351.9V395.7M895.5 351.9V395.7M911.5 351.9V395.7M928.5 351.9V395.7M945.5 351.9V395.7M971.5 351.9V395.7M988.5 351.9V395.7M1012.5 351.9V395.7M1021.5 351.9V395.7M1038.5 351.9V395.7M1055.5 351.9V395.7M1072.5 351.9V395.7M1081.5 351.9V395.7M1098.5 351.9V395.7M1105.5 351.9V395.7M1122.5 351.9V395.7M1139.5 351.9V395.7M1148.5 351.9V395.7M1165.5 351.9V395.7M1182.5 351.9V395.7M1198.5 351.9V395.7M1215.5 351.9V395.7M1232.5 351.9V395.7M1249.5 351.9V395.7M1275.5 351.9V395.7M1282.5 351.9V395.7M1299.5 351.9V395.7M1316.5 351.9V395.7M1325.5 351.9V395.7" stroke="#fff" stroke-opacity="0.07" stroke-width="1" fill="none" shape-rendering="crispEdges"/>
<path d="M768.5 395.7V505.3M794.5 395.7V505.3M811.5 395.7V505.3M818.5 395.7V505.3M844.5 395.7V505.3M861.5 395.7V505.3M878.5 395.7V505.3M895.5 395.7V505.3M911.5 395.7V505.3M928.5 395.7V505.3M945.5 395.7V505.3M971.5 395.7V505.3M988.5 395.7V505.3M1012.5 395.7V505.3M1021.5 395.7V505.3M1038.5 395.7V505.3M1055.5 395.7V505.3M1072.5 395.7V505.3M1081.5 395.7V505.3M1098.5 395.7V505.3M1105.5 395.7V505.3M1122.5 395.7V505.3M1139.5 395.7V505.3M1148.5 395.7V505.3M1165.5 395.7V505.3M1182.5 395.7V505.3M1198.5 395.7V505.3M1215.5 395.7V505.3M1232.5 395.7V505.3M1249.5 395.7V505.3M1275.5 395.7V505.3M1282.5 395.7V505.3M1299.5 395.7V505.3M1316.5 395.7V505.3M1325.5 395.7V505.3M764.4 395.5H1338.4M764.4 416.5H1338.4M764.4 438.5H1338.4M764.4 460.5H1338.4M764.4 481.5H1338.4" stroke="#fff" stroke-opacity="0.14" stroke-width="1" fill="none" shape-rendering="crispEdges"/>
<line x1="1281.00" y1="363.40" x2="1281.00" y2="503.80" stroke="#c8c8c8" stroke-width="3" stroke-dasharray="15.6 15.8"/>
<rect x="764.40" y="351.90" width="574.00" height="153.40" fill="none" stroke="#000" stroke-width="3.2"/>
<line x1="750.90" y1="363.21" x2="764.40" y2="363.21" stroke="#000" stroke-width="2.9"/>
<path transform="translate(722.38 375.21) scale(36.000)" d="M0.378 0L0.289 0L0.289 -0.564L0.133 -0.456L0.117 -0.536L0.342 -0.714L0.378 -0.714Z" fill="#000"/>
<line x1="750.90" y1="428.10" x2="764.40" y2="428.10" stroke="#000" stroke-width="2.9"/>
<text x="722.38" y="440.10" font-size="36" fill="#000" xml:space="preserve">4</text>
<line x1="750.90" y1="492.99" x2="764.40" y2="492.99" stroke="#000" stroke-width="2.9"/>
<text x="722.38" y="504.99" font-size="36" fill="#000" xml:space="preserve">7</text>
<line x1="764.40" y1="505.30" x2="764.40" y2="518.80" stroke="#000" stroke-width="2.9"/>
<line x1="879.20" y1="505.30" x2="879.20" y2="518.80" stroke="#000" stroke-width="2.9"/>
<line x1="994.00" y1="505.30" x2="994.00" y2="518.80" stroke="#000" stroke-width="2.9"/>
<line x1="1108.80" y1="505.30" x2="1108.80" y2="518.80" stroke="#000" stroke-width="2.9"/>
<line x1="1223.60" y1="505.30" x2="1223.60" y2="518.80" stroke="#000" stroke-width="2.9"/>
<line x1="1338.40" y1="505.30" x2="1338.40" y2="518.80" stroke="#000" stroke-width="2.9"/>
<rect x="1352.50" y="350.40" width="27.00" height="152.50" fill="url(#cbar)" stroke="#000" stroke-width="3"/>
<text x="1383.1" y="362.0" font-size="28.5" fill="#000" text-anchor="start">Max</text>
<text x="1383.8" y="513.8" font-size="28" fill="#000" text-anchor="start">0</text>
<rect x="90.50" y="553.00" width="572.80" height="22.01" fill="url(#g29)" shape-rendering="crispEdges"/>
<rect x="90.50" y="575.01" width="572.80" height="21.51" fill="url(#g30)" shape-rendering="crispEdges"/>
<rect x="90.50" y="596.53" width="572.80" height="21.51" fill="url(#g31)" shape-rendering="crispEdges"/>
<rect x="90.50" y="618.04" width="572.80" height="21.51" fill="url(#g32)" shape-rendering="crispEdges"/>
<rect x="90.50" y="639.56" width="572.80" height="21.51" fill="url(#g33)" shape-rendering="crispEdges"/>
<rect x="90.50" y="661.07" width="572.80" height="21.51" fill="url(#g34)" shape-rendering="crispEdges"/>
<rect x="90.50" y="682.59" width="572.80" height="23.01" fill="url(#g35)" shape-rendering="crispEdges"/>
<path d="M104.5 553.0V596.5M120.5 553.0V596.5M138.5 553.0V596.5M144.5 553.0V596.5M154.5 553.0V596.5M171.5 553.0V596.5M188.5 553.0V596.5M205.5 553.0V596.5M222.5 553.0V596.5M239.5 553.0V596.5M255.5 553.0V596.5M272.5 553.0V596.5M289.5 553.0V596.5M306.5 553.0V596.5M322.5 553.0V596.5M339.5 553.0V596.5M356.5 553.0V596.5M373.5 553.0V596.5M389.5 553.0V596.5M416.5 553.0V596.5M440.5 553.0V596.5M457.5 553.0V596.5M474.5 553.0V596.5M483.5 553.0V596.5M491.5 553.0V596.5M500.5 553.0V596.5M517.5 553.0V596.5M524.5 553.0V596.5M541.5 553.0V596.5M558.5 553.0V596.5M584.5 553.0V596.5M601.5 553.0V596.5M624.5 553.0V596.5M651.5 553.0V596.5" stroke="#fff" stroke-opacity="0.07" stroke-width="1" fill="none" shape-rendering="crispEdges"/>
<path d="M104.5 596.5V705.6M120.5 596.5V705.6M138.5 596.5V705.6M144.5 596.5V705.6M154.5 596.5V705.6M171.5 596.5V705.6M188.5 596.5V705.6M205.5 596.5V705.6M222.5 596.5V705.6M239.5 596.5V705.6M255.5 596.5V705.6M272.5 596.5V705.6M289.5 596.5V705.6M306.5 596.5V705.6M322.5 596.5V705.6M339.5 596.5V705.6M356.5 596.5V705.6M373.5 596.5V705.6M389.5 596.5V705.6M416.5 596.5V705.6M440.5 596.5V705.6M457.5 596.5V705.6M474.5 596.5V705.6M483.5 596.5V705.6M491.5 596.5V705.6M500.5 596.5V705.6M517.5 596.5V705.6M524.5 596.5V705.6M541.5 596.5V705.6M558.5 596.5V705.6M584.5 596.5V705.6M601.5 596.5V705.6M624.5 596.5V705.6M651.5 596.5V705.6M90.5 596.5H663.3M90.5 617.5H663.3M90.5 639.5H663.3M90.5 660.5H663.3M90.5 682.5H663.3" stroke="#fff" stroke-opacity="0.14" stroke-width="1" fill="none" shape-rendering="crispEdges"/>
<line x1="606.02" y1="564.50" x2="606.02" y2="704.10" stroke="#c8c8c8" stroke-width="3" stroke-dasharray="15.6 15.8"/>
<rect x="90.50" y="553.00" width="572.80" height="152.60" fill="none" stroke="#000" stroke-width="3.2"/>
<line x1="77.00" y1="564.26" x2="90.50" y2="564.26" stroke="#000" stroke-width="2.9"/>
<path transform="translate(48.48 576.26) scale(36.000)" d="M0.378 0L0.289 0L0.289 -0.564L0.133 -0.456L0.117 -0.536L0.342 -0.714L0.378 -0.714Z" fill="#000"/>
<line x1="77.00" y1="628.80" x2="90.50" y2="628.80" stroke="#000" stroke-width="2.9"/>
<text x="48.48" y="640.80" font-size="36" fill="#000" xml:space="preserve">4</text>
<line x1="77.00" y1="693.34" x2="90.50" y2="693.34" stroke="#000" stroke-width="2.9"/>
<text x="48.48" y="705.34" font-size="36" fill="#000" xml:space="preserve">7</text>
<line x1="90.50" y1="705.60" x2="90.50" y2="719.10" stroke="#000" stroke-width="2.9"/>
<line x1="205.06" y1="705.60" x2="205.06" y2="719.10" stroke="#000" stroke-width="2.9"/>
<line x1="319.62" y1="705.60" x2="319.62" y2="719.10" stroke="#000" stroke-width="2.9"/>
<line x1="434.18" y1="705.60" x2="434.18" y2="719.10" stroke="#000" stroke-width="2.9"/>
<line x1="548.74" y1="705.60" x2="548.74" y2="719.10" stroke="#000" stroke-width="2.9"/>
<line x1="663.30" y1="705.60" x2="663.30" y2="719.10" stroke="#000" stroke-width="2.9"/>
<path transform="translate(111.1 691.4)" d="M1.8 -12.6C3.6 -13.2 3.3 -10 2.9 -7.1C2.4 -3 3.6 0.8 8.6 0.8M20.2 -12.7C17 -12.3 16.6 -8.2 15.1 -4.7C13.6 -1.6 11.6 0.8 8.6 0.8M12.3 -12.9L4.3 6.5" stroke="#fff" stroke-width="2.5" fill="none" stroke-linecap="butt"/>
<text x="131.1" y="697.9" font-size="19" fill="#fff">0</text>
<path d="M152.0 676.9h14v2.4h-14zM152.0 683.0h14v2.4h-14z" fill="#fff"/>
<text x="175.30" y="691.40" font-size="29" fill="#fff" xml:space="preserve">0.5 V</text>
<rect x="764.40" y="553.10" width="574.00" height="22.13" fill="url(#g36)" shape-rendering="crispEdges"/>
<rect x="764.40" y="575.23" width="574.00" height="21.63" fill="url(#g37)" shape-rendering="crispEdges"/>
<rect x="764.40" y="596.86" width="574.00" height="21.63" fill="url(#g38)" shape-rendering="crispEdges"/>
<rect x="764.40" y="618.49" width="574.00" height="21.63" fill="url(#g39)" shape-rendering="crispEdges"/>
<rect x="764.40" y="640.11" width="574.00" height="21.63" fill="url(#g40)" shape-rendering="crispEdges"/>
<rect x="764.40" y="661.74" width="574.00" height="21.63" fill="url(#g41)" shape-rendering="crispEdges"/>
<rect x="764.40" y="683.37" width="574.00" height="23.13" fill="url(#g42)" shape-rendering="crispEdges"/>
<path d="M768.5 553.1V596.9M794.5 553.1V596.9M811.5 553.1V596.9M818.5 553.1V596.9M844.5 553.1V596.9M861.5 553.1V596.9M878.5 553.1V596.9M895.5 553.1V596.9M911.5 553.1V596.9M928.5 553.1V596.9M945.5 553.1V596.9M971.5 553.1V596.9M988.5 553.1V596.9M1012.5 553.1V596.9M1021.5 553.1V596.9M1038.5 553.1V596.9M1055.5 553.1V596.9M1072.5 553.1V596.9M1081.5 553.1V596.9M1098.5 553.1V596.9M1105.5 553.1V596.9M1122.5 553.1V596.9M1139.5 553.1V596.9M1148.5 553.1V596.9M1165.5 553.1V596.9M1182.5 553.1V596.9M1198.5 553.1V596.9M1215.5 553.1V596.9M1232.5 553.1V596.9M1249.5 553.1V596.9M1275.5 553.1V596.9M1282.5 553.1V596.9M1299.5 553.1V596.9M1316.5 553.1V596.9M1325.5 553.1V596.9" stroke="#fff" stroke-opacity="0.07" stroke-width="1" fill="none" shape-rendering="crispEdges"/>
<path d="M768.5 596.9V706.5M794.5 596.9V706.5M811.5 596.9V706.5M818.5 596.9V706.5M844.5 596.9V706.5M861.5 596.9V706.5M878.5 596.9V706.5M895.5 596.9V706.5M911.5 596.9V706.5M928.5 596.9V706.5M945.5 596.9V706.5M971.5 596.9V706.5M988.5 596.9V706.5M1012.5 596.9V706.5M1021.5 596.9V706.5M1038.5 596.9V706.5M1055.5 596.9V706.5M1072.5 596.9V706.5M1081.5 596.9V706.5M1098.5 596.9V706.5M1105.5 596.9V706.5M1122.5 596.9V706.5M1139.5 596.9V706.5M1148.5 596.9V706.5M1165.5 596.9V706.5M1182.5 596.9V706.5M1198.5 596.9V706.5M1215.5 596.9V706.5M1232.5 596.9V706.5M1249.5 596.9V706.5M1275.5 596.9V706.5M1282.5 596.9V706.5M1299.5 596.9V706.5M1316.5 596.9V706.5M1325.5 596.9V706.5M764.4 596.5H1338.4M764.4 617.5H1338.4M764.4 639.5H1338.4M764.4 661.5H1338.4M764.4 682.5H1338.4" stroke="#fff" stroke-opacity="0.14" stroke-width="1" fill="none" shape-rendering="crispEdges"/>
<line x1="1281.00" y1="564.60" x2="1281.00" y2="705.00" stroke="#c8c8c8" stroke-width="3" stroke-dasharray="15.6 15.8"/>
<rect x="764.40" y="553.10" width="574.00" height="153.40" fill="none" stroke="#000" stroke-width="3.2"/>
<line x1="750.90" y1="564.41" x2="764.40" y2="564.41" stroke="#000" stroke-width="2.9"/>
<path transform="translate(722.38 576.41) scale(36.000)" d="M0.378 0L0.289 0L0.289 -0.564L0.133 -0.456L0.117 -0.536L0.342 -0.714L0.378 -0.714Z" fill="#000"/>
<line x1="750.90" y1="629.30" x2="764.40" y2="629.30" stroke="#000" stroke-width="2.9"/>
<text x="722.38" y="641.30" font-size="36" fill="#000" xml:space="preserve">4</text>
<line x1="750.90" y1="694.19" x2="764.40" y2="694.19" stroke="#000" stroke-width="2.9"/>
<text x="722.38" y="706.19" font-size="36" fill="#000" xml:space="preserve">7</text>
<line x1="764.40" y1="706.50" x2="764.40" y2="720.00" stroke="#000" stroke-width="2.9"/>
<line x1="879.20" y1="706.50" x2="879.20" y2="720.00" stroke="#000" stroke-width="2.9"/>
<line x1="994.00" y1="706.50" x2="994.00" y2="720.00" stroke="#000" stroke-width="2.9"/>
<line x1="1108.80" y1="706.50" x2="1108.80" y2="720.00" stroke="#000" stroke-width="2.9"/>
<line x1="1223.60" y1="706.50" x2="1223.60" y2="720.00" stroke="#000" stroke-width="2.9"/>
<line x1="1338.40" y1="706.50" x2="1338.40" y2="720.00" stroke="#000" stroke-width="2.9"/>
<rect x="1350.70" y="552.90" width="27.40" height="154.00" fill="url(#cbar)" stroke="#000" stroke-width="3"/>
<text x="1381.9" y="564.8" font-size="28.5" fill="#000" text-anchor="start">Max</text>
<text x="1380.8" y="718.7" font-size="28" fill="#000" text-anchor="start">0</text>
<rect x="90.50" y="755.90" width="572.80" height="22.01" fill="url(#g43)" shape-rendering="crispEdges"/>
<rect x="90.50" y="777.91" width="572.80" height="21.51" fill="url(#g44)" shape-rendering="crispEdges"/>
<rect x="90.50" y="799.43" width="572.80" height="21.51" fill="url(#g45)" shape-rendering="crispEdges"/>
<rect x="90.50" y="820.94" width="572.80" height="21.51" fill="url(#g46)" shape-rendering="crispEdges"/>
<rect x="90.50" y="842.46" width="572.80" height="21.51" fill="url(#g47)" shape-rendering="crispEdges"/>
<rect x="90.50" y="863.97" width="572.80" height="21.51" fill="url(#g48)" shape-rendering="crispEdges"/>
<rect x="90.50" y="885.49" width="572.80" height="23.01" fill="url(#g49)" shape-rendering="crispEdges"/>
<path d="M104.5 755.9V799.4M120.5 755.9V799.4M138.5 755.9V799.4M144.5 755.9V799.4M154.5 755.9V799.4M171.5 755.9V799.4M188.5 755.9V799.4M205.5 755.9V799.4M222.5 755.9V799.4M239.5 755.9V799.4M255.5 755.9V799.4M272.5 755.9V799.4M289.5 755.9V799.4M306.5 755.9V799.4M322.5 755.9V799.4M339.5 755.9V799.4M356.5 755.9V799.4M373.5 755.9V799.4M389.5 755.9V799.4M416.5 755.9V799.4M440.5 755.9V799.4M457.5 755.9V799.4M474.5 755.9V799.4M483.5 755.9V799.4M491.5 755.9V799.4M500.5 755.9V799.4M517.5 755.9V799.4M524.5 755.9V799.4M541.5 755.9V799.4M558.5 755.9V799.4M584.5 755.9V799.4M601.5 755.9V799.4M624.5 755.9V799.4M651.5 755.9V799.4" stroke="#fff" stroke-opacity="0.07" stroke-width="1" fill="none" shape-rendering="crispEdges"/>
<path d="M104.5 799.4V908.5M120.5 799.4V908.5M138.5 799.4V908.5M144.5 799.4V908.5M154.5 799.4V908.5M171.5 799.4V908.5M188.5 799.4V908.5M205.5 799.4V908.5M222.5 799.4V908.5M239.5 799.4V908.5M255.5 799.4V908.5M272.5 799.4V908.5M289.5 799.4V908.5M306.5 799.4V908.5M322.5 799.4V908.5M339.5 799.4V908.5M356.5 799.4V908.5M373.5 799.4V908.5M389.5 799.4V908.5M416.5 799.4V908.5M440.5 799.4V908.5M457.5 799.4V908.5M474.5 799.4V908.5M483.5 799.4V908.5M491.5 799.4V908.5M500.5 799.4V908.5M517.5 799.4V908.5M524.5 799.4V908.5M541.5 799.4V908.5M558.5 799.4V908.5M584.5 799.4V908.5M601.5 799.4V908.5M624.5 799.4V908.5M651.5 799.4V908.5M90.5 798.5H663.3M90.5 820.5H663.3M90.5 841.5H663.3M90.5 863.5H663.3M90.5 884.5H663.3" stroke="#fff" stroke-opacity="0.14" stroke-width="1" fill="none" shape-rendering="crispEdges"/>
<line x1="606.02" y1="767.40" x2="606.02" y2="907.00" stroke="#c8c8c8" stroke-width="3" stroke-dasharray="15.6 15.8"/>
<rect x="90.50" y="755.90" width="572.80" height="152.60" fill="none" stroke="#000" stroke-width="3.2"/>
<line x1="77.00" y1="767.16" x2="90.50" y2="767.16" stroke="#000" stroke-width="2.9"/>
<path transform="translate(48.48 779.16) scale(36.000)" d="M0.378 0L0.289 0L0.289 -0.564L0.133 -0.456L0.117 -0.536L0.342 -0.714L0.378 -0.714Z" fill="#000"/>
<line x1="77.00" y1="831.70" x2="90.50" y2="831.70" stroke="#000" stroke-width="2.9"/>
<text x="48.48" y="843.70" font-size="36" fill="#000" xml:space="preserve">4</text>
<line x1="77.00" y1="896.24" x2="90.50" y2="896.24" stroke="#000" stroke-width="2.9"/>
<text x="48.48" y="908.24" font-size="36" fill="#000" xml:space="preserve">7</text>
<line x1="90.50" y1="908.50" x2="90.50" y2="922.00" stroke="#000" stroke-width="2.9"/>
<line x1="205.06" y1="908.50" x2="205.06" y2="922.00" stroke="#000" stroke-width="2.9"/>
<line x1="319.62" y1="908.50" x2="319.62" y2="922.00" stroke="#000" stroke-width="2.9"/>
<line x1="434.18" y1="908.50" x2="434.18" y2="922.00" stroke="#000" stroke-width="2.9"/>
<line x1="548.74" y1="908.50" x2="548.74" y2="922.00" stroke="#000" stroke-width="2.9"/>
<line x1="663.30" y1="908.50" x2="663.30" y2="922.00" stroke="#000" stroke-width="2.9"/>
<path transform="translate(111.1 894.3)" d="M1.8 -12.6C3.6 -13.2 3.3 -10 2.9 -7.1C2.4 -3 3.6 0.8 8.6 0.8M20.2 -12.7C17 -12.3 16.6 -8.2 15.1 -4.7C13.6 -1.6 11.6 0.8 8.6 0.8M12.3 -12.9L4.3 6.5" stroke="#fff" stroke-width="2.5" fill="none" stroke-linecap="butt"/>
<text x="131.1" y="900.8" font-size="19" fill="#fff">0</text>
<path d="M152.0 879.8h14v2.4h-14zM152.0 885.9h14v2.4h-14z" fill="#fff"/>
<text x="175.30" y="894.30" font-size="29" fill="#fff" xml:space="preserve">0.65 V</text>
<rect x="764.40" y="756.00" width="574.00" height="22.13" fill="url(#g50)" shape-rendering="crispEdges"/>
<rect x="764.40" y="778.13" width="574.00" height="21.63" fill="url(#g51)" shape-rendering="crispEdges"/>
<rect x="764.40" y="799.76" width="574.00" height="21.63" fill="url(#g52)" shape-rendering="crispEdges"/>
<rect x="764.40" y="821.39" width="574.00" height="21.63" fill="url(#g53)" shape-rendering="crispEdges"/>
<rect x="764.40" y="843.01" width="574.00" height="21.63" fill="url(#g54)" shape-rendering="crispEdges"/>
<rect x="764.40" y="864.64" width="574.00" height="21.63" fill="url(#g55)" shape-rendering="crispEdges"/>
<rect x="764.40" y="886.27" width="574.00" height="23.13" fill="url(#g56)" shape-rendering="crispEdges"/>
<path d="M768.5 756.0V799.8M794.5 756.0V799.8M811.5 756.0V799.8M818.5 756.0V799.8M844.5 756.0V799.8M861.5 756.0V799.8M878.5 756.0V799.8M895.5 756.0V799.8M911.5 756.0V799.8M928.5 756.0V799.8M945.5 756.0V799.8M971.5 756.0V799.8M988.5 756.0V799.8M1012.5 756.0V799.8M1021.5 756.0V799.8M1038.5 756.0V799.8M1055.5 756.0V799.8M1072.5 756.0V799.8M1081.5 756.0V799.8M1098.5 756.0V799.8M1105.5 756.0V799.8M1122.5 756.0V799.8M1139.5 756.0V799.8M1148.5 756.0V799.8M1165.5 756.0V799.8M1182.5 756.0V799.8M1198.5 756.0V799.8M1215.5 756.0V799.8M1232.5 756.0V799.8M1249.5 756.0V799.8M1275.5 756.0V799.8M1282.5 756.0V799.8M1299.5 756.0V799.8M1316.5 756.0V799.8M1325.5 756.0V799.8" stroke="#fff" stroke-opacity="0.07" stroke-width="1" fill="none" shape-rendering="crispEdges"/>
<path d="M768.5 799.8V909.4M794.5 799.8V909.4M811.5 799.8V909.4M818.5 799.8V909.4M844.5 799.8V909.4M861.5 799.8V909.4M878.5 799.8V909.4M895.5 799.8V909.4M911.5 799.8V909.4M928.5 799.8V909.4M945.5 799.8V909.4M971.5 799.8V909.4M988.5 799.8V909.4M1012.5 799.8V909.4M1021.5 799.8V909.4M1038.5 799.8V909.4M1055.5 799.8V909.4M1072.5 799.8V909.4M1081.5 799.8V909.4M1098.5 799.8V909.4M1105.5 799.8V909.4M1122.5 799.8V909.4M1139.5 799.8V909.4M1148.5 799.8V909.4M1165.5 799.8V909.4M1182.5 799.8V909.4M1198.5 799.8V909.4M1215.5 799.8V909.4M1232.5 799.8V909.4M1249.5 799.8V909.4M1275.5 799.8V909.4M1282.5 799.8V909.4M1299.5 799.8V909.4M1316.5 799.8V909.4M1325.5 799.8V909.4M764.4 799.5H1338.4M764.4 820.5H1338.4M764.4 842.5H1338.4M764.4 864.5H1338.4M764.4 885.5H1338.4" stroke="#fff" stroke-opacity="0.14" stroke-width="1" fill="none" shape-rendering="crispEdges"/>
<line x1="1281.00" y1="767.50" x2="1281.00" y2="907.90" stroke="#c8c8c8" stroke-width="3" stroke-dasharray="15.6 15.8"/>
<rect x="764.40" y="756.00" width="574.00" height="153.40" fill="none" stroke="#000" stroke-width="3.2"/>
<line x1="750.90" y1="767.31" x2="764.40" y2="767.31" stroke="#000" stroke-width="2.9"/>
<path transform="translate(722.38 779.31) scale(36.000)" d="M0.378 0L0.289 0L0.289 -0.564L0.133 -0.456L0.117 -0.536L0.342 -0.714L0.378 -0.714Z" fill="#000"/>
<line x1="750.90" y1="832.20" x2="764.40" y2="832.20" stroke="#000" stroke-width="2.9"/>
<text x="722.38" y="844.20" font-size="36" fill="#000" xml:space="preserve">4</text>
<line x1="750.90" y1="897.09" x2="764.40" y2="897.09" stroke="#000" stroke-width="2.9"/>
<text x="722.38" y="909.09" font-size="36" fill="#000" xml:space="preserve">7</text>
<line x1="764.40" y1="909.40" x2="764.40" y2="922.90" stroke="#000" stroke-width="2.9"/>
<line x1="879.20" y1="909.40" x2="879.20" y2="922.90" stroke="#000" stroke-width="2.9"/>
<line x1="994.00" y1="909.40" x2="994.00" y2="922.90" stroke="#000" stroke-width="2.9"/>
<line x1="1108.80" y1="909.40" x2="1108.80" y2="922.90" stroke="#000" stroke-width="2.9"/>
<line x1="1223.60" y1="909.40" x2="1223.60" y2="922.90" stroke="#000" stroke-width="2.9"/>
<line x1="1338.40" y1="909.40" x2="1338.40" y2="922.90" stroke="#000" stroke-width="2.9"/>
<rect x="1349.70" y="755.80" width="26.90" height="154.20" fill="url(#cbar)" stroke="#000" stroke-width="3"/>
<text x="1380.5" y="767.7" font-size="28.5" fill="#000" text-anchor="start">Max</text>
<text x="1380.5" y="920.9" font-size="28" fill="#000" text-anchor="start">0</text>
<rect x="90.50" y="958.50" width="572.80" height="22.01" fill="url(#g57)" shape-rendering="crispEdges"/>
<rect x="90.50" y="980.51" width="572.80" height="21.51" fill="url(#g58)" shape-rendering="crispEdges"/>
<rect x="90.50" y="1002.03" width="572.80" height="21.51" fill="url(#g59)" shape-rendering="crispEdges"/>
<rect x="90.50" y="1023.54" width="572.80" height="21.51" fill="url(#g60)" shape-rendering="crispEdges"/>
<rect x="90.50" y="1045.06" width="572.80" height="21.51" fill="url(#g61)" shape-rendering="crispEdges"/>
<rect x="90.50" y="1066.57" width="572.80" height="21.51" fill="url(#g62)" shape-rendering="crispEdges"/>
<rect x="90.50" y="1088.09" width="572.80" height="23.01" fill="url(#g63)" shape-rendering="crispEdges"/>
<path d="M104.5 958.5V1002.0M120.5 958.5V1002.0M138.5 958.5V1002.0M144.5 958.5V1002.0M154.5 958.5V1002.0M171.5 958.5V1002.0M188.5 958.5V1002.0M205.5 958.5V1002.0M222.5 958.5V1002.0M239.5 958.5V1002.0M255.5 958.5V1002.0M272.5 958.5V1002.0M289.5 958.5V1002.0M306.5 958.5V1002.0M322.5 958.5V1002.0M339.5 958.5V1002.0M356.5 958.5V1002.0M373.5 958.5V1002.0M389.5 958.5V1002.0M416.5 958.5V1002.0M440.5 958.5V1002.0M457.5 958.5V1002.0M474.5 958.5V1002.0M483.5 958.5V1002.0M491.5 958.5V1002.0M500.5 958.5V1002.0M517.5 958.5V1002.0M524.5 958.5V1002.0M541.5 958.5V1002.0M558.5 958.5V1002.0M584.5 958.5V1002.0M601.5 958.5V1002.0M624.5 958.5V1002.0M651.5 958.5V1002.0" stroke="#fff" stroke-opacity="0.07" stroke-width="1" fill="none" shape-rendering="crispEdges"/>
<path d="M104.5 1002.0V1111.1M120.5 1002.0V1111.1M138.5 1002.0V1111.1M144.5 1002.0V1111.1M154.5 1002.0V1111.1M171.5 1002.0V1111.1M188.5 1002.0V1111.1M205.5 1002.0V1111.1M222.5 1002.0V1111.1M239.5 1002.0V1111.1M255.5 1002.0V1111.1M272.5 1002.0V1111.1M289.5 1002.0V1111.1M306.5 1002.0V1111.1M322.5 1002.0V1111.1M339.5 1002.0V1111.1M356.5 1002.0V1111.1M373.5 1002.0V1111.1M389.5 1002.0V1111.1M416.5 1002.0V1111.1M440.5 1002.0V1111.1M457.5 1002.0V1111.1M474.5 1002.0V1111.1M483.5 1002.0V1111.1M491.5 1002.0V1111.1M500.5 1002.0V1111.1M517.5 1002.0V1111.1M524.5 1002.0V1111.1M541.5 1002.0V1111.1M558.5 1002.0V1111.1M584.5 1002.0V1111.1M601.5 1002.0V1111.1M624.5 1002.0V1111.1M651.5 1002.0V1111.1M90.5 1001.5H663.3M90.5 1023.5H663.3M90.5 1044.5H663.3M90.5 1066.5H663.3M90.5 1087.5H663.3" stroke="#fff" stroke-opacity="0.14" stroke-width="1" fill="none" shape-rendering="crispEdges"/>
<line x1="606.02" y1="970.00" x2="606.02" y2="1109.60" stroke="#c8c8c8" stroke-width="3" stroke-dasharray="15.6 15.8"/>
<rect x="90.50" y="958.50" width="572.80" height="152.60" fill="none" stroke="#000" stroke-width="3.2"/>
<line x1="77.00" y1="969.76" x2="90.50" y2="969.76" stroke="#000" stroke-width="2.9"/>
<path transform="translate(48.48 981.76) scale(36.000)" d="M0.378 0L0.289 0L0.289 -0.564L0.133 -0.456L0.117 -0.536L0.342 -0.714L0.378 -0.714Z" fill="#000"/>
<line x1="77.00" y1="1034.30" x2="90.50" y2="1034.30" stroke="#000" stroke-width="2.9"/>
<text x="48.48" y="1046.30" font-size="36" fill="#000" xml:space="preserve">4</text>
<line x1="77.00" y1="1098.84" x2="90.50" y2="1098.84" stroke="#000" stroke-width="2.9"/>
<text x="48.48" y="1110.84" font-size="36" fill="#000" xml:space="preserve">7</text>
<line x1="90.50" y1="1111.10" x2="90.50" y2="1124.60" stroke="#000" stroke-width="2.9"/>
<line x1="205.06" y1="1111.10" x2="205.06" y2="1124.60" stroke="#000" stroke-width="2.9"/>
<line x1="319.62" y1="1111.10" x2="319.62" y2="1124.60" stroke="#000" stroke-width="2.9"/>
<line x1="434.18" y1="1111.10" x2="434.18" y2="1124.60" stroke="#000" stroke-width="2.9"/>
<line x1="548.74" y1="1111.10" x2="548.74" y2="1124.60" stroke="#000" stroke-width="2.9"/>
<line x1="663.30" y1="1111.10" x2="663.30" y2="1124.60" stroke="#000" stroke-width="2.9"/>
<path transform="translate(111.1 1096.9)" d="M1.8 -12.6C3.6 -13.2 3.3 -10 2.9 -7.1C2.4 -3 3.6 0.8 8.6 0.8M20.2 -12.7C17 -12.3 16.6 -8.2 15.1 -4.7C13.6 -1.6 11.6 0.8 8.6 0.8M12.3 -12.9L4.3 6.5" stroke="#fff" stroke-width="2.5" fill="none" stroke-linecap="butt"/>
<text x="131.1" y="1103.4" font-size="19" fill="#fff">0</text>
<path d="M152.0 1082.4h14v2.4h-14zM152.0 1088.5h14v2.4h-14z" fill="#fff"/>
<path transform="translate(175.30 1096.90) scale(29.000)" d="M0.378 0L0.289 0L0.289 -0.564L0.133 -0.456L0.117 -0.536L0.342 -0.714L0.378 -0.714Z" fill="#fff"/><text x="191.42" y="1096.90" font-size="29" fill="#fff" xml:space="preserve">.2 V</text>
<rect x="764.40" y="958.60" width="574.00" height="22.13" fill="url(#g64)" shape-rendering="crispEdges"/>
<rect x="764.40" y="980.73" width="574.00" height="21.63" fill="url(#g65)" shape-rendering="crispEdges"/>
<rect x="764.40" y="1002.36" width="574.00" height="21.63" fill="url(#g66)" shape-rendering="crispEdges"/>
<rect x="764.40" y="1023.99" width="574.00" height="21.63" fill="url(#g67)" shape-rendering="crispEdges"/>
<rect x="764.40" y="1045.61" width="574.00" height="21.63" fill="url(#g68)" shape-rendering="crispEdges"/>
<rect x="764.40" y="1067.24" width="574.00" height="21.63" fill="url(#g69)" shape-rendering="crispEdges"/>
<rect x="764.40" y="1088.87" width="574.00" height="23.13" fill="url(#g70)" shape-rendering="crispEdges"/>
<path d="M768.5 958.6V1002.4M794.5 958.6V1002.4M811.5 958.6V1002.4M818.5 958.6V1002.4M844.5 958.6V1002.4M861.5 958.6V1002.4M878.5 958.6V1002.4M895.5 958.6V1002.4M911.5 958.6V1002.4M928.5 958.6V1002.4M945.5 958.6V1002.4M971.5 958.6V1002.4M988.5 958.6V1002.4M1012.5 958.6V1002.4M1021.5 958.6V1002.4M1038.5 958.6V1002.4M1055.5 958.6V1002.4M1072.5 958.6V1002.4M1081.5 958.6V1002.4M1098.5 958.6V1002.4M1105.5 958.6V1002.4M1122.5 958.6V1002.4M1139.5 958.6V1002.4M1148.5 958.6V1002.4M1165.5 958.6V1002.4M1182.5 958.6V1002.4M1198.5 958.6V1002.4M1215.5 958.6V1002.4M1232.5 958.6V1002.4M1249.5 958.6V1002.4M1275.5 958.6V1002.4M1282.5 958.6V1002.4M1299.5 958.6V1002.4M1316.5 958.6V1002.4M1325.5 958.6V1002.4" stroke="#fff" stroke-opacity="0.07" stroke-width="1" fill="none" shape-rendering="crispEdges"/>
<path d="M768.5 1002.4V1112.0M794.5 1002.4V1112.0M811.5 1002.4V1112.0M818.5 1002.4V1112.0M844.5 1002.4V1112.0M861.5 1002.4V1112.0M878.5 1002.4V1112.0M895.5 1002.4V1112.0M911.5 1002.4V1112.0M928.5 1002.4V1112.0M945.5 1002.4V1112.0M971.5 1002.4V1112.0M988.5 1002.4V1112.0M1012.5 1002.4V1112.0M1021.5 1002.4V1112.0M1038.5 1002.4V1112.0M1055.5 1002.4V1112.0M1072.5 1002.4V1112.0M1081.5 1002.4V1112.0M1098.5 1002.4V1112.0M1105.5 1002.4V1112.0M1122.5 1002.4V1112.0M1139.5 1002.4V1112.0M1148.5 1002.4V1112.0M1165.5 1002.4V1112.0M1182.5 1002.4V1112.0M1198.5 1002.4V1112.0M1215.5 1002.4V1112.0M1232.5 1002.4V1112.0M1249.5 1002.4V1112.0M1275.5 1002.4V1112.0M1282.5 1002.4V1112.0M1299.5 1002.4V1112.0M1316.5 1002.4V1112.0M1325.5 1002.4V1112.0M764.4 1001.5H1338.4M764.4 1023.5H1338.4M764.4 1045.5H1338.4M764.4 1066.5H1338.4M764.4 1088.5H1338.4" stroke="#fff" stroke-opacity="0.14" stroke-width="1" fill="none" shape-rendering="crispEdges"/>
<line x1="1281.00" y1="970.10" x2="1281.00" y2="1110.50" stroke="#c8c8c8" stroke-width="3" stroke-dasharray="15.6 15.8"/>
<rect x="764.40" y="958.60" width="574.00" height="153.40" fill="none" stroke="#000" stroke-width="3.2"/>
<line x1="750.90" y1="969.91" x2="764.40" y2="969.91" stroke="#000" stroke-width="2.9"/>
<path transform="translate(722.38 981.91) scale(36.000)" d="M0.378 0L0.289 0L0.289 -0.564L0.133 -0.456L0.117 -0.536L0.342 -0.714L0.378 -0.714Z" fill="#000"/>
<line x1="750.90" y1="1034.80" x2="764.40" y2="1034.80" stroke="#000" stroke-width="2.9"/>
<text x="722.38" y="1046.80" font-size="36" fill="#000" xml:space="preserve">4</text>
<line x1="750.90" y1="1099.69" x2="764.40" y2="1099.69" stroke="#000" stroke-width="2.9"/>
<text x="722.38" y="1111.69" font-size="36" fill="#000" xml:space="preserve">7</text>
<line x1="764.40" y1="1112.00" x2="764.40" y2="1125.50" stroke="#000" stroke-width="2.9"/>
<line x1="879.20" y1="1112.00" x2="879.20" y2="1125.50" stroke="#000" stroke-width="2.9"/>
<line x1="994.00" y1="1112.00" x2="994.00" y2="1125.50" stroke="#000" stroke-width="2.9"/>
<line x1="1108.80" y1="1112.00" x2="1108.80" y2="1125.50" stroke="#000" stroke-width="2.9"/>
<line x1="1223.60" y1="1112.00" x2="1223.60" y2="1125.50" stroke="#000" stroke-width="2.9"/>
<line x1="1338.40" y1="1112.00" x2="1338.40" y2="1125.50" stroke="#000" stroke-width="2.9"/>
<rect x="1349.70" y="957.40" width="26.90" height="154.90" fill="url(#cbar)" stroke="#000" stroke-width="3"/>
<text x="1380.5" y="969.0" font-size="28.5" fill="#000" text-anchor="start">Max</text>
<text x="1380.8" y="1123.2" font-size="28" fill="#000" text-anchor="start">0</text>
<rect x="90.50" y="1228.60" width="572.80" height="22.01" fill="url(#g71)" shape-rendering="crispEdges"/>
<rect x="90.50" y="1250.61" width="572.80" height="21.51" fill="url(#g72)" shape-rendering="crispEdges"/>
<rect x="90.50" y="1272.13" width="572.80" height="21.51" fill="url(#g73)" shape-rendering="crispEdges"/>
<rect x="90.50" y="1293.64" width="572.80" height="21.51" fill="url(#g74)" shape-rendering="crispEdges"/>
<rect x="90.50" y="1315.16" width="572.80" height="21.51" fill="url(#g75)" shape-rendering="crispEdges"/>
<rect x="90.50" y="1336.67" width="572.80" height="21.51" fill="url(#g76)" shape-rendering="crispEdges"/>
<rect x="90.50" y="1358.19" width="572.80" height="23.01" fill="url(#g77)" shape-rendering="crispEdges"/>
<path d="M104.5 1228.6V1272.1M120.5 1228.6V1272.1M138.5 1228.6V1272.1M144.5 1228.6V1272.1M154.5 1228.6V1272.1M171.5 1228.6V1272.1M188.5 1228.6V1272.1M205.5 1228.6V1272.1M222.5 1228.6V1272.1M239.5 1228.6V1272.1M255.5 1228.6V1272.1M272.5 1228.6V1272.1M289.5 1228.6V1272.1M306.5 1228.6V1272.1M322.5 1228.6V1272.1M339.5 1228.6V1272.1M356.5 1228.6V1272.1M373.5 1228.6V1272.1M389.5 1228.6V1272.1M416.5 1228.6V1272.1M440.5 1228.6V1272.1M457.5 1228.6V1272.1M474.5 1228.6V1272.1M483.5 1228.6V1272.1M491.5 1228.6V1272.1M500.5 1228.6V1272.1M517.5 1228.6V1272.1M524.5 1228.6V1272.1M541.5 1228.6V1272.1M558.5 1228.6V1272.1M584.5 1228.6V1272.1M601.5 1228.6V1272.1M624.5 1228.6V1272.1M651.5 1228.6V1272.1" stroke="#fff" stroke-opacity="0.07" stroke-width="1" fill="none" shape-rendering="crispEdges"/>
<path d="M104.5 1272.1V1381.2M120.5 1272.1V1381.2M138.5 1272.1V1381.2M144.5 1272.1V1381.2M154.5 1272.1V1381.2M171.5 1272.1V1381.2M188.5 1272.1V1381.2M205.5 1272.1V1381.2M222.5 1272.1V1381.2M239.5 1272.1V1381.2M255.5 1272.1V1381.2M272.5 1272.1V1381.2M289.5 1272.1V1381.2M306.5 1272.1V1381.2M322.5 1272.1V1381.2M339.5 1272.1V1381.2M356.5 1272.1V1381.2M373.5 1272.1V1381.2M389.5 1272.1V1381.2M416.5 1272.1V1381.2M440.5 1272.1V1381.2M457.5 1272.1V1381.2M474.5 1272.1V1381.2M483.5 1272.1V1381.2M491.5 1272.1V1381.2M500.5 1272.1V1381.2M517.5 1272.1V1381.2M524.5 1272.1V1381.2M541.5 1272.1V1381.2M558.5 1272.1V1381.2M584.5 1272.1V1381.2M601.5 1272.1V1381.2M624.5 1272.1V1381.2M651.5 1272.1V1381.2M90.5 1271.5H663.3M90.5 1293.5H663.3M90.5 1314.5H663.3M90.5 1336.5H663.3M90.5 1357.5H663.3" stroke="#fff" stroke-opacity="0.14" stroke-width="1" fill="none" shape-rendering="crispEdges"/>
<line x1="606.02" y1="1240.10" x2="606.02" y2="1379.70" stroke="#c8c8c8" stroke-width="3" stroke-dasharray="15.6 15.8"/>
<rect x="90.50" y="1228.60" width="572.80" height="152.60" fill="none" stroke="#000" stroke-width="3.2"/>
<line x1="77.00" y1="1239.86" x2="90.50" y2="1239.86" stroke="#000" stroke-width="2.9"/>
<path transform="translate(48.48 1251.86) scale(36.000)" d="M0.378 0L0.289 0L0.289 -0.564L0.133 -0.456L0.117 -0.536L0.342 -0.714L0.378 -0.714Z" fill="#000"/>
<line x1="77.00" y1="1304.40" x2="90.50" y2="1304.40" stroke="#000" stroke-width="2.9"/>
<text x="48.48" y="1316.40" font-size="36" fill="#000" xml:space="preserve">4</text>
<line x1="77.00" y1="1368.94" x2="90.50" y2="1368.94" stroke="#000" stroke-width="2.9"/>
<text x="48.48" y="1380.94" font-size="36" fill="#000" xml:space="preserve">7</text>
<line x1="90.50" y1="1381.20" x2="90.50" y2="1394.70" stroke="#000" stroke-width="2.9"/>
<line x1="205.06" y1="1381.20" x2="205.06" y2="1394.70" stroke="#000" stroke-width="2.9"/>
<line x1="319.62" y1="1381.20" x2="319.62" y2="1394.70" stroke="#000" stroke-width="2.9"/>
<line x1="434.18" y1="1381.20" x2="434.18" y2="1394.70" stroke="#000" stroke-width="2.9"/>
<line x1="548.74" y1="1381.20" x2="548.74" y2="1394.70" stroke="#000" stroke-width="2.9"/>
<line x1="663.30" y1="1381.20" x2="663.30" y2="1394.70" stroke="#000" stroke-width="2.9"/>
<path transform="translate(111.1 1367.0)" d="M1.8 -12.6C3.6 -13.2 3.3 -10 2.9 -7.1C2.4 -3 3.6 0.8 8.6 0.8M20.2 -12.7C17 -12.3 16.6 -8.2 15.1 -4.7C13.6 -1.6 11.6 0.8 8.6 0.8M12.3 -12.9L4.3 6.5" stroke="#fff" stroke-width="2.5" fill="none" stroke-linecap="butt"/>
<text x="131.1" y="1373.5" font-size="19" fill="#fff">0</text>
<path d="M152.0 1352.5h14v2.4h-14zM152.0 1358.6h14v2.4h-14z" fill="#fff"/>
<text x="175.30" y="1367.00" font-size="29" fill="#fff" xml:space="preserve">2.5 V</text>
<rect x="764.40" y="1228.70" width="574.00" height="22.13" fill="url(#g78)" shape-rendering="crispEdges"/>
<rect x="764.40" y="1250.83" width="574.00" height="21.63" fill="url(#g79)" shape-rendering="crispEdges"/>
<rect x="764.40" y="1272.46" width="574.00" height="21.63" fill="url(#g80)" shape-rendering="crispEdges"/>
<rect x="764.40" y="1294.09" width="574.00" height="21.63" fill="url(#g81)" shape-rendering="crispEdges"/>
<rect x="764.40" y="1315.71" width="574.00" height="21.63" fill="url(#g82)" shape-rendering="crispEdges"/>
<rect x="764.40" y="1337.34" width="574.00" height="21.63" fill="url(#g83)" shape-rendering="crispEdges"/>
<rect x="764.40" y="1358.97" width="574.00" height="23.13" fill="url(#g84)" shape-rendering="crispEdges"/>
<path d="M768.5 1228.7V1272.5M794.5 1228.7V1272.5M811.5 1228.7V1272.5M818.5 1228.7V1272.5M844.5 1228.7V1272.5M861.5 1228.7V1272.5M878.5 1228.7V1272.5M895.5 1228.7V1272.5M911.5 1228.7V1272.5M928.5 1228.7V1272.5M945.5 1228.7V1272.5M971.5 1228.7V1272.5M988.5 1228.7V1272.5M1012.5 1228.7V1272.5M1021.5 1228.7V1272.5M1038.5 1228.7V1272.5M1055.5 1228.7V1272.5M1072.5 1228.7V1272.5M1081.5 1228.7V1272.5M1098.5 1228.7V1272.5M1105.5 1228.7V1272.5M1122.5 1228.7V1272.5M1139.5 1228.7V1272.5M1148.5 1228.7V1272.5M1165.5 1228.7V1272.5M1182.5 1228.7V1272.5M1198.5 1228.7V1272.5M1215.5 1228.7V1272.5M1232.5 1228.7V1272.5M1249.5 1228.7V1272.5M1275.5 1228.7V1272.5M1282.5 1228.7V1272.5M1299.5 1228.7V1272.5M1316.5 1228.7V1272.5M1325.5 1228.7V1272.5" stroke="#fff" stroke-opacity="0.07" stroke-width="1" fill="none" shape-rendering="crispEdges"/>
<path d="M768.5 1272.5V1382.1M794.5 1272.5V1382.1M811.5 1272.5V1382.1M818.5 1272.5V1382.1M844.5 1272.5V1382.1M861.5 1272.5V1382.1M878.5 1272.5V1382.1M895.5 1272.5V1382.1M911.5 1272.5V1382.1M928.5 1272.5V1382.1M945.5 1272.5V1382.1M971.5 1272.5V1382.1M988.5 1272.5V1382.1M1012.5 1272.5V1382.1M1021.5 1272.5V1382.1M1038.5 1272.5V1382.1M1055.5 1272.5V1382.1M1072.5 1272.5V1382.1M1081.5 1272.5V1382.1M1098.5 1272.5V1382.1M1105.5 1272.5V1382.1M1122.5 1272.5V1382.1M1139.5 1272.5V1382.1M1148.5 1272.5V1382.1M1165.5 1272.5V1382.1M1182.5 1272.5V1382.1M1198.5 1272.5V1382.1M1215.5 1272.5V1382.1M1232.5 1272.5V1382.1M1249.5 1272.5V1382.1M1275.5 1272.5V1382.1M1282.5 1272.5V1382.1M1299.5 1272.5V1382.1M1316.5 1272.5V1382.1M1325.5 1272.5V1382.1M764.4 1271.5H1338.4M764.4 1293.5H1338.4M764.4 1315.5H1338.4M764.4 1336.5H1338.4M764.4 1358.5H1338.4" stroke="#fff" stroke-opacity="0.14" stroke-width="1" fill="none" shape-rendering="crispEdges"/>
<line x1="1281.00" y1="1240.20" x2="1281.00" y2="1380.60" stroke="#c8c8c8" stroke-width="3" stroke-dasharray="15.6 15.8"/>
<rect x="764.40" y="1228.70" width="574.00" height="153.40" fill="none" stroke="#000" stroke-width="3.2"/>
<line x1="750.90" y1="1240.01" x2="764.40" y2="1240.01" stroke="#000" stroke-width="2.9"/>
<path transform="translate(722.38 1252.01) scale(36.000)" d="M0.378 0L0.289 0L0.289 -0.564L0.133 -0.456L0.117 -0.536L0.342 -0.714L0.378 -0.714Z" fill="#000"/>
<line x1="750.90" y1="1304.90" x2="764.40" y2="1304.90" stroke="#000" stroke-width="2.9"/>
<text x="722.38" y="1316.90" font-size="36" fill="#000" xml:space="preserve">4</text>
<line x1="750.90" y1="1369.79" x2="764.40" y2="1369.79" stroke="#000" stroke-width="2.9"/>
<text x="722.38" y="1381.79" font-size="36" fill="#000" xml:space="preserve">7</text>
<line x1="764.40" y1="1382.10" x2="764.40" y2="1395.60" stroke="#000" stroke-width="2.9"/>
<line x1="879.20" y1="1382.10" x2="879.20" y2="1395.60" stroke="#000" stroke-width="2.9"/>
<line x1="994.00" y1="1382.10" x2="994.00" y2="1395.60" stroke="#000" stroke-width="2.9"/>
<line x1="1108.80" y1="1382.10" x2="1108.80" y2="1395.60" stroke="#000" stroke-width="2.9"/>
<line x1="1223.60" y1="1382.10" x2="1223.60" y2="1395.60" stroke="#000" stroke-width="2.9"/>
<line x1="1338.40" y1="1382.10" x2="1338.40" y2="1395.60" stroke="#000" stroke-width="2.9"/>
<rect x="1351.00" y="1227.40" width="27.00" height="155.30" fill="url(#cbar)" stroke="#000" stroke-width="3"/>
<text x="1381.9" y="1239.0" font-size="28.5" fill="#000" text-anchor="start">Max</text>
<text x="1381.9" y="1394.1" font-size="28" fill="#000" text-anchor="start">0</text>
<text x="80.49" y="1431.60" font-size="36" fill="#000" xml:space="preserve">0</text>
<path transform="translate(185.04 1431.60) scale(36.000)" d="M0.378 0L0.289 0L0.289 -0.564L0.133 -0.456L0.117 -0.536L0.342 -0.714L0.378 -0.714Z" fill="#000"/><text x="205.06" y="1431.60" font-size="36" fill="#000" xml:space="preserve">0</text>
<text x="299.60" y="1431.60" font-size="36" fill="#000" xml:space="preserve">20</text>
<text x="414.16" y="1431.60" font-size="36" fill="#000" xml:space="preserve">30</text>
<text x="528.72" y="1431.60" font-size="36" fill="#000" xml:space="preserve">40</text>
<text x="643.28" y="1431.60" font-size="36" fill="#000" xml:space="preserve">50</text>
<text x="378.1" y="1480.8" font-size="36.5" fill="#000" text-anchor="middle">time (&#956;s)</text>
<text x="754.39" y="1431.60" font-size="36" fill="#000" xml:space="preserve">0</text>
<path transform="translate(859.18 1431.60) scale(36.000)" d="M0.378 0L0.289 0L0.289 -0.564L0.133 -0.456L0.117 -0.536L0.342 -0.714L0.378 -0.714Z" fill="#000"/><text x="879.20" y="1431.60" font-size="36" fill="#000" xml:space="preserve">0</text>
<text x="973.98" y="1431.60" font-size="36" fill="#000" xml:space="preserve">20</text>
<text x="1088.78" y="1431.60" font-size="36" fill="#000" xml:space="preserve">30</text>
<text x="1203.58" y="1431.60" font-size="36" fill="#000" xml:space="preserve">40</text>
<text x="1318.38" y="1431.60" font-size="36" fill="#000" xml:space="preserve">50</text>
<text x="1052.6" y="1480.8" font-size="36.5" fill="#000" text-anchor="middle">time (&#956;s)</text>
<text x="0" y="0" font-size="36.6" text-anchor="middle" transform="translate(35.6 748.0) rotate(-90)">Site index</text>
<text x="0" y="0" font-size="36.6" text-anchor="middle" transform="translate(707.3 748.0) rotate(-90)">Site index</text>
<text x="742.5" y="1622.4" font-size="36.5" fill="#7030A0" text-anchor="middle">increasing nonlinearity</text>
<line x1="163" y1="1643.2" x2="1285" y2="1643.2" stroke="#7030A0" stroke-width="3.2"/>
<path d="M1310.8 1643.3 L1269.2 1631.2 L1281.3 1643.2 L1269.2 1655.0 Z" fill="#7030A0"/>
<g clip-path="url(#cc)"><polyline fill="none" stroke="#0072BD" stroke-width="3" stroke-linejoin="round" points="166.7,1749.8 189.0,1746.2 207.7,1744.5 226.3,1742.9 245.0,1741.6 265.7,1741.4 284.4,1741.4 303.1,1742.6 317.6,1743.7 325.9,1744.9 338.3,1747.0 359.0,1750.3 379.8,1753.8 400.5,1756.8 419.2,1758.6 437.8,1760.7 460.7,1763.2 481.5,1765.9 502.2,1768.6 522.9,1771.1 543.7,1773.2 564.4,1774.8 585.1,1776.5 605.9,1777.7 626.6,1778.6 647.3,1779.3 668.1,1779.4 688.8,1779.4 709.5,1779.3 730.0,1778.8 751.1,1778.2 771.8,1775.9 802.9,1772.6 834.0,1768.4 865.1,1763.2 896.2,1757.6 927.3,1751.4 958.4,1744.6 989.5,1737.3 1000.0,1734.7 1022.1,1728.6 1044.2,1723.2 1066.3,1717.7 1088.5,1712.6 1110.6,1707.7 1132.7,1703.3 1154.8,1699.5 1176.9,1696.5 1199.0,1694.2 1221.1,1691.8 1243.3,1690.1 1265.4,1689.3 1287.5,1688.7 1313.0,1688.7"/><polyline fill="none" stroke="#D95319" stroke-width="3" stroke-linejoin="round" points="166.7,1836.2 187.0,1837.9 207.7,1840.4 230.0,1843.4 255.4,1846.3 280.0,1847.1 305.1,1847.3 367.3,1847.2 398.4,1846.4 429.5,1844.7 460.7,1843.2 481.5,1842.4 512.6,1841.4 543.7,1840.1 574.8,1839.1 605.9,1837.5 637.0,1836.6 678.4,1835.0 720.0,1833.4 740.0,1832.7 800.0,1832.2 906.6,1832.0 917.0,1833.0 948.1,1834.1 1000.0,1836.3 1044.2,1838.2 1088.5,1839.8 1132.7,1840.6 1199.0,1841.4 1221.1,1841.8 1313.0,1841.8"/><circle cx="169.9" cy="1835.4" r="4.65" fill="#fde9c9" stroke="#D95319" stroke-width="2.9"/><circle cx="189.0" cy="1837.0" r="4.65" fill="#fde9c9" stroke="#D95319" stroke-width="2.9"/><circle cx="208.1" cy="1838.7" r="4.65" fill="#fde9c9" stroke="#D95319" stroke-width="2.9"/><circle cx="227.2" cy="1839.9" r="4.65" fill="#fde9c9" stroke="#D95319" stroke-width="2.9"/><circle cx="246.3" cy="1841.6" r="4.65" fill="#fde9c9" stroke="#D95319" stroke-width="2.9"/><circle cx="265.4" cy="1841.2" r="4.65" fill="#fde9c9" stroke="#D95319" stroke-width="2.9"/><circle cx="284.5" cy="1842.8" r="4.65" fill="#fde9c9" stroke="#D95319" stroke-width="2.9"/><circle cx="303.6" cy="1842.8" r="4.65" fill="#fde9c9" stroke="#D95319" stroke-width="2.9"/><circle cx="322.7" cy="1844.3" r="4.65" fill="#fde9c9" stroke="#D95319" stroke-width="2.9"/><circle cx="341.8" cy="1844.3" r="4.65" fill="#fde9c9" stroke="#D95319" stroke-width="2.9"/><circle cx="360.9" cy="1844.3" r="4.65" fill="#fde9c9" stroke="#D95319" stroke-width="2.9"/><circle cx="380.0" cy="1845.7" r="4.65" fill="#fde9c9" stroke="#D95319" stroke-width="2.9"/><circle cx="399.1" cy="1845.7" r="4.65" fill="#fde9c9" stroke="#D95319" stroke-width="2.9"/><circle cx="418.2" cy="1845.7" r="4.65" fill="#fde9c9" stroke="#D95319" stroke-width="2.9"/><circle cx="437.3" cy="1845.7" r="4.65" fill="#fde9c9" stroke="#D95319" stroke-width="2.9"/><circle cx="456.4" cy="1845.8" r="4.65" fill="#fde9c9" stroke="#D95319" stroke-width="2.9"/><circle cx="475.5" cy="1845.9" r="4.65" fill="#fde9c9" stroke="#D95319" stroke-width="2.9"/><circle cx="494.6" cy="1845.9" r="4.65" fill="#fde9c9" stroke="#D95319" stroke-width="2.9"/><circle cx="513.7" cy="1844.5" r="4.65" fill="#fde9c9" stroke="#D95319" stroke-width="2.9"/><circle cx="532.8" cy="1844.5" r="4.65" fill="#fde9c9" stroke="#D95319" stroke-width="2.9"/><circle cx="551.9" cy="1844.5" r="4.65" fill="#fde9c9" stroke="#D95319" stroke-width="2.9"/><circle cx="571.0" cy="1844.5" r="4.65" fill="#fde9c9" stroke="#D95319" stroke-width="2.9"/><circle cx="590.1" cy="1843.2" r="4.65" fill="#fde9c9" stroke="#D95319" stroke-width="2.9"/><circle cx="609.2" cy="1843.2" r="4.65" fill="#fde9c9" stroke="#D95319" stroke-width="2.9"/><circle cx="628.3" cy="1843.2" r="4.65" fill="#fde9c9" stroke="#D95319" stroke-width="2.9"/><circle cx="647.4" cy="1841.8" r="4.65" fill="#fde9c9" stroke="#D95319" stroke-width="2.9"/><circle cx="666.5" cy="1841.8" r="4.65" fill="#fde9c9" stroke="#D95319" stroke-width="2.9"/><circle cx="685.6" cy="1841.8" r="4.65" fill="#fde9c9" stroke="#D95319" stroke-width="2.9"/><circle cx="704.7" cy="1840.3" r="4.65" fill="#fde9c9" stroke="#D95319" stroke-width="2.9"/><circle cx="723.8" cy="1840.3" r="4.65" fill="#fde9c9" stroke="#D95319" stroke-width="2.9"/><circle cx="742.9" cy="1840.3" r="4.65" fill="#fde9c9" stroke="#D95319" stroke-width="2.9"/><circle cx="762.0" cy="1838.8" r="4.65" fill="#fde9c9" stroke="#D95319" stroke-width="2.9"/><circle cx="781.1" cy="1838.8" r="4.65" fill="#fde9c9" stroke="#D95319" stroke-width="2.9"/><circle cx="800.2" cy="1838.8" r="4.65" fill="#fde9c9" stroke="#D95319" stroke-width="2.9"/><circle cx="819.3" cy="1838.8" r="4.65" fill="#fde9c9" stroke="#D95319" stroke-width="2.9"/><circle cx="838.4" cy="1837.4" r="4.65" fill="#fde9c9" stroke="#D95319" stroke-width="2.9"/><circle cx="857.5" cy="1837.4" r="4.65" fill="#fde9c9" stroke="#D95319" stroke-width="2.9"/><circle cx="876.6" cy="1837.4" r="4.65" fill="#fde9c9" stroke="#D95319" stroke-width="2.9"/><circle cx="895.7" cy="1837.4" r="4.65" fill="#fde9c9" stroke="#D95319" stroke-width="2.9"/><circle cx="914.8" cy="1837.8" r="4.65" fill="#fde9c9" stroke="#D95319" stroke-width="2.9"/><circle cx="933.9" cy="1839.0" r="4.65" fill="#fde9c9" stroke="#D95319" stroke-width="2.9"/><circle cx="953.0" cy="1839.0" r="4.65" fill="#fde9c9" stroke="#D95319" stroke-width="2.9"/><circle cx="972.1" cy="1839.0" r="4.65" fill="#fde9c9" stroke="#D95319" stroke-width="2.9"/><circle cx="991.2" cy="1839.0" r="4.65" fill="#fde9c9" stroke="#D95319" stroke-width="2.9"/><circle cx="1010.3" cy="1840.3" r="4.65" fill="#fde9c9" stroke="#D95319" stroke-width="2.9"/><circle cx="1029.4" cy="1840.4" r="4.65" fill="#fde9c9" stroke="#D95319" stroke-width="2.9"/><circle cx="1048.5" cy="1840.4" r="4.65" fill="#fde9c9" stroke="#D95319" stroke-width="2.9"/><circle cx="1067.6" cy="1840.4" r="4.65" fill="#fde9c9" stroke="#D95319" stroke-width="2.9"/><circle cx="1086.7" cy="1840.4" r="4.65" fill="#fde9c9" stroke="#D95319" stroke-width="2.9"/><circle cx="1105.8" cy="1841.5" r="4.65" fill="#fde9c9" stroke="#D95319" stroke-width="2.9"/><circle cx="1124.9" cy="1841.5" r="4.65" fill="#fde9c9" stroke="#D95319" stroke-width="2.9"/><circle cx="1144.0" cy="1840.4" r="4.65" fill="#fde9c9" stroke="#D95319" stroke-width="2.9"/><circle cx="1163.1" cy="1840.4" r="4.65" fill="#fde9c9" stroke="#D95319" stroke-width="2.9"/><circle cx="1182.2" cy="1840.4" r="4.65" fill="#fde9c9" stroke="#D95319" stroke-width="2.9"/><circle cx="1201.3" cy="1840.4" r="4.65" fill="#fde9c9" stroke="#D95319" stroke-width="2.9"/><circle cx="1220.4" cy="1840.4" r="4.65" fill="#fde9c9" stroke="#D95319" stroke-width="2.9"/><circle cx="1239.5" cy="1840.4" r="4.65" fill="#fde9c9" stroke="#D95319" stroke-width="2.9"/><circle cx="1258.6" cy="1840.4" r="4.65" fill="#fde9c9" stroke="#D95319" stroke-width="2.9"/><circle cx="1277.7" cy="1840.4" r="4.65" fill="#fde9c9" stroke="#D95319" stroke-width="2.9"/><circle cx="1296.8" cy="1840.4" r="4.65" fill="#fde9c9" stroke="#D95319" stroke-width="2.9"/><circle cx="1312.0" cy="1840.4" r="4.65" fill="#fde9c9" stroke="#D95319" stroke-width="2.9"/><circle cx="169.9" cy="1749.1" r="4.65" fill="#aeeafa" stroke="#0072BD" stroke-width="2.9"/><circle cx="189.0" cy="1746.2" r="4.65" fill="#aeeafa" stroke="#0072BD" stroke-width="2.9"/><circle cx="208.1" cy="1744.5" r="4.65" fill="#aeeafa" stroke="#0072BD" stroke-width="2.9"/><circle cx="227.2" cy="1742.9" r="4.65" fill="#aeeafa" stroke="#0072BD" stroke-width="2.9"/><circle cx="246.3" cy="1741.8" r="4.65" fill="#aeeafa" stroke="#0072BD" stroke-width="2.9"/><circle cx="265.4" cy="1741.8" r="4.65" fill="#aeeafa" stroke="#0072BD" stroke-width="2.9"/><circle cx="284.5" cy="1740.4" r="4.65" fill="#aeeafa" stroke="#0072BD" stroke-width="2.9"/><circle cx="303.6" cy="1740.4" r="4.65" fill="#aeeafa" stroke="#0072BD" stroke-width="2.9"/><circle cx="322.7" cy="1740.4" r="4.65" fill="#aeeafa" stroke="#0072BD" stroke-width="2.9"/><circle cx="341.8" cy="1740.4" r="4.65" fill="#aeeafa" stroke="#0072BD" stroke-width="2.9"/><circle cx="360.9" cy="1740.4" r="4.65" fill="#aeeafa" stroke="#0072BD" stroke-width="2.9"/><circle cx="380.0" cy="1741.8" r="4.65" fill="#aeeafa" stroke="#0072BD" stroke-width="2.9"/><circle cx="399.1" cy="1741.8" r="4.65" fill="#aeeafa" stroke="#0072BD" stroke-width="2.9"/><circle cx="418.2" cy="1743.3" r="4.65" fill="#aeeafa" stroke="#0072BD" stroke-width="2.9"/><circle cx="437.3" cy="1743.3" r="4.65" fill="#aeeafa" stroke="#0072BD" stroke-width="2.9"/><circle cx="456.4" cy="1744.8" r="4.65" fill="#aeeafa" stroke="#0072BD" stroke-width="2.9"/><circle cx="475.5" cy="1745.2" r="4.65" fill="#aeeafa" stroke="#0072BD" stroke-width="2.9"/><circle cx="494.6" cy="1746.6" r="4.65" fill="#aeeafa" stroke="#0072BD" stroke-width="2.9"/><circle cx="513.7" cy="1746.6" r="4.65" fill="#aeeafa" stroke="#0072BD" stroke-width="2.9"/><circle cx="532.8" cy="1747.9" r="4.65" fill="#aeeafa" stroke="#0072BD" stroke-width="2.9"/><circle cx="551.9" cy="1749.3" r="4.65" fill="#aeeafa" stroke="#0072BD" stroke-width="2.9"/><circle cx="571.0" cy="1750.8" r="4.65" fill="#aeeafa" stroke="#0072BD" stroke-width="2.9"/><circle cx="590.1" cy="1750.8" r="4.65" fill="#aeeafa" stroke="#0072BD" stroke-width="2.9"/><circle cx="609.2" cy="1752.0" r="4.65" fill="#aeeafa" stroke="#0072BD" stroke-width="2.9"/><circle cx="628.3" cy="1752.0" r="4.65" fill="#aeeafa" stroke="#0072BD" stroke-width="2.9"/><circle cx="647.4" cy="1753.5" r="4.65" fill="#aeeafa" stroke="#0072BD" stroke-width="2.9"/><circle cx="666.5" cy="1753.5" r="4.65" fill="#aeeafa" stroke="#0072BD" stroke-width="2.9"/><circle cx="685.6" cy="1753.5" r="4.65" fill="#aeeafa" stroke="#0072BD" stroke-width="2.9"/><circle cx="704.7" cy="1753.5" r="4.65" fill="#aeeafa" stroke="#0072BD" stroke-width="2.9"/><circle cx="723.8" cy="1752.0" r="4.65" fill="#aeeafa" stroke="#0072BD" stroke-width="2.9"/><circle cx="742.9" cy="1751.0" r="4.65" fill="#aeeafa" stroke="#0072BD" stroke-width="2.9"/><circle cx="762.0" cy="1747.3" r="4.65" fill="#aeeafa" stroke="#0072BD" stroke-width="2.9"/><circle cx="781.1" cy="1746.0" r="4.65" fill="#aeeafa" stroke="#0072BD" stroke-width="2.9"/><circle cx="800.2" cy="1743.1" r="4.65" fill="#aeeafa" stroke="#0072BD" stroke-width="2.9"/><circle cx="819.3" cy="1740.4" r="4.65" fill="#aeeafa" stroke="#0072BD" stroke-width="2.9"/><circle cx="838.4" cy="1736.3" r="4.65" fill="#aeeafa" stroke="#0072BD" stroke-width="2.9"/><circle cx="857.5" cy="1732.1" r="4.65" fill="#aeeafa" stroke="#0072BD" stroke-width="2.9"/><circle cx="876.6" cy="1727.6" r="4.65" fill="#aeeafa" stroke="#0072BD" stroke-width="2.9"/><circle cx="895.7" cy="1723.4" r="4.65" fill="#aeeafa" stroke="#0072BD" stroke-width="2.9"/><circle cx="914.8" cy="1718.0" r="4.65" fill="#aeeafa" stroke="#0072BD" stroke-width="2.9"/><circle cx="933.9" cy="1712.2" r="4.65" fill="#aeeafa" stroke="#0072BD" stroke-width="2.9"/><circle cx="953.0" cy="1707.9" r="4.65" fill="#aeeafa" stroke="#0072BD" stroke-width="2.9"/><circle cx="972.1" cy="1703.6" r="4.65" fill="#aeeafa" stroke="#0072BD" stroke-width="2.9"/><circle cx="991.2" cy="1700.0" r="4.65" fill="#aeeafa" stroke="#0072BD" stroke-width="2.9"/><circle cx="1010.3" cy="1696.5" r="4.65" fill="#aeeafa" stroke="#0072BD" stroke-width="2.9"/><circle cx="1029.4" cy="1693.4" r="4.65" fill="#aeeafa" stroke="#0072BD" stroke-width="2.9"/><circle cx="1048.5" cy="1692.0" r="4.65" fill="#aeeafa" stroke="#0072BD" stroke-width="2.9"/><circle cx="1067.6" cy="1690.5" r="4.65" fill="#aeeafa" stroke="#0072BD" stroke-width="2.9"/><circle cx="1086.7" cy="1689.4" r="4.65" fill="#aeeafa" stroke="#0072BD" stroke-width="2.9"/><circle cx="1105.8" cy="1689.4" r="4.65" fill="#aeeafa" stroke="#0072BD" stroke-width="2.9"/><circle cx="1124.9" cy="1688.3" r="4.65" fill="#aeeafa" stroke="#0072BD" stroke-width="2.9"/><circle cx="1144.0" cy="1687.8" r="4.65" fill="#aeeafa" stroke="#0072BD" stroke-width="2.9"/><circle cx="1163.1" cy="1688.3" r="4.65" fill="#aeeafa" stroke="#0072BD" stroke-width="2.9"/><circle cx="1182.2" cy="1688.3" r="4.65" fill="#aeeafa" stroke="#0072BD" stroke-width="2.9"/><circle cx="1201.3" cy="1688.3" r="4.65" fill="#aeeafa" stroke="#0072BD" stroke-width="2.9"/><circle cx="1220.4" cy="1688.3" r="4.65" fill="#aeeafa" stroke="#0072BD" stroke-width="2.9"/><circle cx="1239.5" cy="1688.3" r="4.65" fill="#aeeafa" stroke="#0072BD" stroke-width="2.9"/><circle cx="1258.6" cy="1688.3" r="4.65" fill="#aeeafa" stroke="#0072BD" stroke-width="2.9"/><circle cx="1277.7" cy="1688.3" r="4.65" fill="#aeeafa" stroke="#0072BD" stroke-width="2.9"/><circle cx="1296.8" cy="1688.3" r="4.65" fill="#aeeafa" stroke="#0072BD" stroke-width="2.9"/><circle cx="1312.0" cy="1688.3" r="4.65" fill="#aeeafa" stroke="#0072BD" stroke-width="2.9"/></g>
<line x1="165.2" y1="1673.0" x2="1313.9" y2="1673.0" stroke="#000" stroke-width="3.2"/>
<line x1="165.2" y1="2008.8" x2="1313.9" y2="2008.8" stroke="#000" stroke-width="3.2"/>
<line x1="166.7" y1="1671.5" x2="166.7" y2="1686.0" stroke="#000" stroke-width="3"/>
<line x1="166.7" y1="1686.0" x2="166.7" y2="2010.3" stroke="#0072BD" stroke-width="3"/>
<line x1="1312.4" y1="1671.5" x2="1312.4" y2="2010.3" stroke="#D95319" stroke-width="3"/>
<line x1="357.6" y1="1673.0" x2="357.6" y2="1685.4" stroke="#000" stroke-width="2.8"/>
<line x1="357.6" y1="2008.8" x2="357.6" y2="1996.4" stroke="#000" stroke-width="2.8"/>
<line x1="548.6" y1="1673.0" x2="548.6" y2="1685.4" stroke="#000" stroke-width="2.8"/>
<line x1="548.6" y1="2008.8" x2="548.6" y2="1996.4" stroke="#000" stroke-width="2.8"/>
<line x1="739.5" y1="1673.0" x2="739.5" y2="1685.4" stroke="#000" stroke-width="2.8"/>
<line x1="739.5" y1="2008.8" x2="739.5" y2="1996.4" stroke="#000" stroke-width="2.8"/>
<line x1="930.5" y1="1673.0" x2="930.5" y2="1685.4" stroke="#000" stroke-width="2.8"/>
<line x1="930.5" y1="2008.8" x2="930.5" y2="1996.4" stroke="#000" stroke-width="2.8"/>
<line x1="1121.5" y1="1673.0" x2="1121.5" y2="1685.4" stroke="#000" stroke-width="2.8"/>
<line x1="1121.5" y1="2008.8" x2="1121.5" y2="1996.4" stroke="#000" stroke-width="2.8"/>
<text x="156.69" y="2050.40" font-size="36" fill="#000" xml:space="preserve">0</text>
<text x="332.63" y="2050.40" font-size="36" fill="#000" xml:space="preserve">0.5</text>
<path transform="translate(538.59 2050.40) scale(36.000)" d="M0.378 0L0.289 0L0.289 -0.564L0.133 -0.456L0.117 -0.536L0.342 -0.714L0.378 -0.714Z" fill="#000"/>
<path transform="translate(714.53 2050.40) scale(36.000)" d="M0.378 0L0.289 0L0.289 -0.564L0.133 -0.456L0.117 -0.536L0.342 -0.714L0.378 -0.714Z" fill="#000"/><text x="734.55" y="2050.40" font-size="36" fill="#000" xml:space="preserve">.5</text>
<text x="920.49" y="2050.40" font-size="36" fill="#000" xml:space="preserve">2</text>
<text x="1096.43" y="2050.40" font-size="36" fill="#000" xml:space="preserve">2.5</text>
<text x="1302.39" y="2050.40" font-size="36" fill="#000" xml:space="preserve">3</text>
<line x1="166.7" y1="1688.5" x2="179.4" y2="1688.5" stroke="#0072BD" stroke-width="2.8"/>
<path transform="translate(134.48 1699.70) scale(36.000)" d="M0.378 0L0.289 0L0.289 -0.564L0.133 -0.456L0.117 -0.536L0.342 -0.714L0.378 -0.714Z" fill="#0072BD"/>
<line x1="166.7" y1="1840.9" x2="179.4" y2="1840.9" stroke="#0072BD" stroke-width="2.8"/>
<text x="104.46" y="1852.10" font-size="36" fill="#0072BD" xml:space="preserve">0.5</text>
<line x1="166.7" y1="1993.3" x2="179.4" y2="1993.3" stroke="#0072BD" stroke-width="2.8"/>
<text x="134.48" y="2004.50" font-size="36" fill="#0072BD" xml:space="preserve">0</text>
<line x1="1299.5" y1="1688.5" x2="1312.4" y2="1688.5" stroke="#D95319" stroke-width="2.8"/>
<path transform="translate(1324.60 1699.70) scale(36.000)" d="M0.378 0L0.289 0L0.289 -0.564L0.133 -0.456L0.117 -0.536L0.342 -0.714L0.378 -0.714Z" fill="#D95319"/>
<line x1="1299.5" y1="1840.9" x2="1312.4" y2="1840.9" stroke="#D95319" stroke-width="2.8"/>
<text x="1324.60" y="1852.10" font-size="36" fill="#D95319" xml:space="preserve">0</text>
<line x1="1299.5" y1="1993.3" x2="1312.4" y2="1993.3" stroke="#D95319" stroke-width="2.8"/>
<text x="1324.60" y="2004.50" font-size="36" fill="#D95319" xml:space="preserve">-</text><path transform="translate(1336.59 2004.50) scale(36.000)" d="M0.378 0L0.289 0L0.289 -0.564L0.133 -0.456L0.117 -0.536L0.342 -0.714L0.378 -0.714Z" fill="#D95319"/>
<text x="0" y="0" font-size="36.6" fill="#0072BD" text-anchor="middle" transform="translate(86.1 1840.8) rotate(-90)">State localization</text>
<text x="0" y="0" font-size="36.2" fill="#D95319" text-anchor="middle" transform="translate(1397.9 1843.0) rotate(-90)">Asymmetry parameter</text>
<path transform="translate(696.2 2083.5) scale(1.12)" d="M1.8 -12.6C3.6 -13.2 3.3 -10 2.9 -7.1C2.4 -3 3.6 0.8 8.6 0.8M20.2 -12.7C17 -12.3 16.6 -8.2 15.1 -4.7C13.6 -1.6 11.6 0.8 8.6 0.8M12.3 -12.9L4.3 6.5" stroke="#000" stroke-width="2.5" fill="none"/>
<text x="719.2" y="2092.6" font-size="23">0</text>
<text x="739.5" y="2083.5" font-size="34">(V)</text></svg>
</body></html>
